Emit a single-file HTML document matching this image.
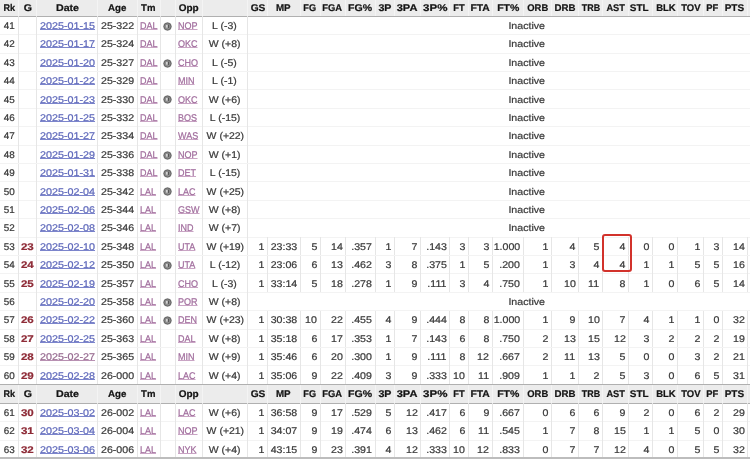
<!DOCTYPE html>
<html><head><meta charset="utf-8"><style>
*{margin:0;padding:0;box-sizing:border-box}
html,body{width:750px;height:460px;overflow:hidden;background:#fff}
body{position:relative;font-family:"Liberation Sans",sans-serif;text-rendering:geometricPrecision;font-size:9.7px;color:#3a3a3a}
#w{position:absolute;left:0;top:0;width:750px;height:460px;will-change:transform}
.b{position:absolute}
.c{position:absolute;white-space:nowrap;overflow:visible}
.c span{display:inline-block;-webkit-text-stroke:0.22px currentColor}
.c[style*="text-align:right"] span{transform-origin:100% 50%}
.c[style*="text-align:left"] span{transform-origin:0 50%}
.c[style*="text-align:center"] span{transform-origin:50% 50%}
.d span{transform:scaleX(1.095)}
.res span{transform:scaleX(1.08)}
.h{font-weight:bold;font-size:9.7px;color:#141414}
.h span{transform:scaleX(1.05)}
.rk{color:#383838}
.rk span{transform:scaleX(1.02)}
.g{font-weight:bold;color:#8e2b37}
.g span{transform:scaleX(1.19)}
.dt span{color:#5f69bb;text-decoration:underline;text-decoration-color:#7c85cc;text-underline-offset:0px;text-decoration-skip-ink:none;transform:scaleX(1.11)}
.dt.vis span{color:#976b90;text-decoration-color:#b890b2}
.tm span{color:#a06c9c;text-decoration:underline;text-decoration-color:#c9a4c4;text-underline-offset:0px;text-decoration-skip-ink:none;transform:scaleX(0.93);position:relative;left:-0.6px}
.at{color:#484848;font-size:9.4px;font-weight:bold}
.at span{position:relative;top:-1px}
.hl{position:absolute;left:601.5px;top:234.3px;width:30.5px;height:37.5px;border:2px solid #d2322b;border-radius:3px}
</style></head><body>
<div id="w"><div class="b" style="left:0px;top:-2px;width:750px;height:18.6px;background:#ececec"></div>
<div class="b" style="left:17.9px;top:-2px;width:1px;height:17.6px;background:#f4f4f4"></div>
<div class="b" style="left:36.2px;top:-2px;width:1px;height:17.6px;background:#f4f4f4"></div>
<div class="b" style="left:97.2px;top:-2px;width:1px;height:17.6px;background:#f4f4f4"></div>
<div class="b" style="left:136.9px;top:-2px;width:1px;height:17.6px;background:#f4f4f4"></div>
<div class="b" style="left:159.9px;top:-2px;width:1px;height:17.6px;background:#f4f4f4"></div>
<div class="b" style="left:174.8px;top:-2px;width:1px;height:17.6px;background:#f4f4f4"></div>
<div class="b" style="left:201.8px;top:-2px;width:1px;height:17.6px;background:#f4f4f4"></div>
<div class="b" style="left:247px;top:-2px;width:1px;height:17.6px;background:#f4f4f4"></div>
<div class="b" style="left:266.8px;top:-2px;width:1px;height:17.6px;background:#f4f4f4"></div>
<div class="b" style="left:300.1px;top:-2px;width:1px;height:17.6px;background:#f4f4f4"></div>
<div class="b" style="left:319.7px;top:-2px;width:1px;height:17.6px;background:#f4f4f4"></div>
<div class="b" style="left:345px;top:-2px;width:1px;height:17.6px;background:#f4f4f4"></div>
<div class="b" style="left:374.8px;top:-2px;width:1px;height:17.6px;background:#f4f4f4"></div>
<div class="b" style="left:394.4px;top:-2px;width:1px;height:17.6px;background:#f4f4f4"></div>
<div class="b" style="left:420px;top:-2px;width:1px;height:17.6px;background:#f4f4f4"></div>
<div class="b" style="left:449.1px;top:-2px;width:1px;height:17.6px;background:#f4f4f4"></div>
<div class="b" style="left:467.8px;top:-2px;width:1px;height:17.6px;background:#f4f4f4"></div>
<div class="b" style="left:491.8px;top:-2px;width:1px;height:17.6px;background:#f4f4f4"></div>
<div class="b" style="left:523px;top:-2px;width:1px;height:17.6px;background:#f4f4f4"></div>
<div class="b" style="left:551.1px;top:-2px;width:1px;height:17.6px;background:#f4f4f4"></div>
<div class="b" style="left:578.2px;top:-2px;width:1px;height:17.6px;background:#f4f4f4"></div>
<div class="b" style="left:602px;top:-2px;width:1px;height:17.6px;background:#f4f4f4"></div>
<div class="b" style="left:628.3px;top:-2px;width:1px;height:17.6px;background:#f4f4f4"></div>
<div class="b" style="left:652.3px;top:-2px;width:1px;height:17.6px;background:#f4f4f4"></div>
<div class="b" style="left:677.3px;top:-2px;width:1px;height:17.6px;background:#f4f4f4"></div>
<div class="b" style="left:702.9px;top:-2px;width:1px;height:17.6px;background:#f4f4f4"></div>
<div class="b" style="left:722.2px;top:-2px;width:1px;height:17.6px;background:#f4f4f4"></div>
<div class="b" style="left:747px;top:-2px;width:1px;height:17.6px;background:#f4f4f4"></div>
<div class="b" style="left:0px;top:15.6px;width:750px;height:1px;background:#b0b0b0"></div>
<div class="c h" style="left:0px;top:-0.4px;width:18.4px;height:17.6px;line-height:17.6px;text-align:center;"><span style="transform:scaleX(0.937);position:relative;left:0.0px">Rk</span></div>
<div class="c h" style="left:18.4px;top:-0.4px;width:18.3px;height:17.6px;line-height:17.6px;text-align:center;"><span style="transform:scaleX(1.095);position:relative;left:0.1px">G</span></div>
<div class="c h" style="left:36.7px;top:-0.4px;width:61px;height:17.6px;line-height:17.6px;text-align:center;"><span style="transform:scaleX(1.1);position:relative;left:0.2px">Date</span></div>
<div class="c h" style="left:97.7px;top:-0.4px;width:39.7px;height:17.6px;line-height:17.6px;text-align:center;"><span style="transform:scaleX(1.006);position:relative;left:-0.3px">Age</span></div>
<div class="c h" style="left:137.4px;top:-0.4px;width:23px;height:17.6px;line-height:17.6px;text-align:center;"><span style="transform:scaleX(0.987);position:relative;left:-0.4px">Tm</span></div>
<div class="c h" style="left:175.3px;top:-0.4px;width:27px;height:17.6px;line-height:17.6px;text-align:center;"><span style="transform:scaleX(1.029);position:relative;left:0.0px">Opp</span></div>
<div class="c h" style="left:247.5px;top:-0.4px;width:19.8px;height:17.6px;line-height:17.6px;text-align:center;"><span style="transform:scaleX(1.05);position:relative;left:0.7px">GS</span></div>
<div class="c h" style="left:267.3px;top:-0.4px;width:33.3px;height:17.6px;line-height:17.6px;text-align:center;"><span style="transform:scaleX(1.008);position:relative;left:-0.6px">MP</span></div>
<div class="c h" style="left:300.6px;top:-0.4px;width:19.6px;height:17.6px;line-height:17.6px;text-align:center;"><span style="transform:scaleX(0.945);position:relative;left:-1.0px">FG</span></div>
<div class="c h" style="left:320.2px;top:-0.4px;width:25.3px;height:17.6px;line-height:17.6px;text-align:center;"><span style="transform:scaleX(0.97);position:relative;left:-0.8px">FGA</span></div>
<div class="c h" style="left:345.5px;top:-0.4px;width:29.8px;height:17.6px;line-height:17.6px;text-align:center;"><span style="transform:scaleX(1.087);position:relative;left:-0.5px">FG%</span></div>
<div class="c h" style="left:375.3px;top:-0.4px;width:19.6px;height:17.6px;line-height:17.6px;text-align:center;"><span style="transform:scaleX(1.103);position:relative;left:0.0px">3P</span></div>
<div class="c h" style="left:394.9px;top:-0.4px;width:25.6px;height:17.6px;line-height:17.6px;text-align:center;"><span style="transform:scaleX(1.143);position:relative;left:-0.9px">3PA</span></div>
<div class="c h" style="left:420.5px;top:-0.4px;width:29.1px;height:17.6px;line-height:17.6px;text-align:center;"><span style="transform:scaleX(1.19);position:relative;left:-0.3px">3P%</span></div>
<div class="c h" style="left:449.6px;top:-0.4px;width:18.7px;height:17.6px;line-height:17.6px;text-align:center;"><span style="transform:scaleX(0.963);position:relative;left:0.2px">FT</span></div>
<div class="c h" style="left:468.3px;top:-0.4px;width:24px;height:17.6px;line-height:17.6px;text-align:center;"><span style="transform:scaleX(1.068);position:relative;left:0.1px">FTA</span></div>
<div class="c h" style="left:492.3px;top:-0.4px;width:31.2px;height:17.6px;line-height:17.6px;text-align:center;"><span style="transform:scaleX(1.085);position:relative;left:0.0px">FT%</span></div>
<div class="c h" style="left:523.5px;top:-0.4px;width:28.1px;height:17.6px;line-height:17.6px;text-align:center;"><span style="transform:scaleX(0.973);position:relative;left:0.1px">ORB</span></div>
<div class="c h" style="left:551.6px;top:-0.4px;width:27.1px;height:17.6px;line-height:17.6px;text-align:center;"><span style="transform:scaleX(1.0);position:relative;left:-0.2px">DRB</span></div>
<div class="c h" style="left:578.7px;top:-0.4px;width:23.8px;height:17.6px;line-height:17.6px;text-align:center;"><span style="transform:scaleX(0.92);position:relative;left:0.7px">TRB</span></div>
<div class="c h" style="left:602.5px;top:-0.4px;width:26.3px;height:17.6px;line-height:17.6px;text-align:center;"><span style="transform:scaleX(0.956);position:relative;left:-0.2px">AST</span></div>
<div class="c h" style="left:628.8px;top:-0.4px;width:24px;height:17.6px;line-height:17.6px;text-align:center;"><span style="transform:scaleX(1.028);position:relative;left:-1.5px">STL</span></div>
<div class="c h" style="left:652.8px;top:-0.4px;width:25px;height:17.6px;line-height:17.6px;text-align:center;"><span style="transform:scaleX(0.982);position:relative;left:0.2px">BLK</span></div>
<div class="c h" style="left:677.8px;top:-0.4px;width:25.6px;height:17.6px;line-height:17.6px;text-align:center;"><span style="transform:scaleX(0.98);position:relative;left:0.0px">TOV</span></div>
<div class="c h" style="left:703.4px;top:-0.4px;width:19.3px;height:17.6px;line-height:17.6px;text-align:center;"><span style="transform:scaleX(0.969);position:relative;left:-0.5px">PF</span></div>
<div class="c h" style="left:722.7px;top:-0.4px;width:24.8px;height:17.6px;line-height:17.6px;text-align:center;"><span style="transform:scaleX(1.033);position:relative;left:-1.1px">PTS</span></div>
<div class="b" style="left:0px;top:34.2px;width:750px;height:1px;background:#f3f3f3"></div>
<div class="b" style="left:17.9px;top:16.3px;width:1px;height:18.4px;background:#e6e6e6"></div>
<div class="b" style="left:36.2px;top:16.3px;width:1px;height:18.4px;background:#e6e6e6"></div>
<div class="b" style="left:97.2px;top:16.3px;width:1px;height:18.4px;background:#e6e6e6"></div>
<div class="b" style="left:136.9px;top:16.3px;width:1px;height:18.4px;background:#e6e6e6"></div>
<div class="b" style="left:159.9px;top:16.3px;width:1px;height:18.4px;background:#e6e6e6"></div>
<div class="b" style="left:174.8px;top:16.3px;width:1px;height:18.4px;background:#e6e6e6"></div>
<div class="b" style="left:201.8px;top:16.3px;width:1px;height:18.4px;background:#e6e6e6"></div>
<div class="b" style="left:247px;top:16.3px;width:1px;height:18.4px;background:#e6e6e6"></div>
<div class="c rk" style="left:0px;top:17.9px;width:18.4px;height:18.4px;line-height:18.4px;text-align:right;padding-right:3.2px;"><span>41</span></div>
<div class="c dt" style="left:36.7px;top:17.9px;width:61px;height:18.4px;line-height:18.4px;text-align:left;padding-left:3.2px;"><span>2025-01-15</span></div>
<div class="c d" style="left:97.7px;top:17.9px;width:39.7px;height:18.4px;line-height:18.4px;text-align:left;padding-left:3.2px;"><span>25-322</span></div>
<div class="c tm" style="left:137.4px;top:17.9px;width:23px;height:18.4px;line-height:18.4px;text-align:left;padding-left:3.2px;"><span>DAL</span></div>
<svg class="b" style="left:163.2px;top:21.7px" width="9" height="9" viewBox="0 0 9 9"><circle cx="4.5" cy="4.5" r="4.1" fill="#8e8e8e"/><circle cx="4.5" cy="4.5" r="3.5" fill="none" stroke="#686868" stroke-width="1"/><rect x="3.3" y="3.0" width="1.4" height="2.6" fill="#f0f0f0"/><rect x="4.8" y="2.7" width="1.3" height="3.2" fill="#555"/></svg>
<div class="c tm" style="left:175.3px;top:17.9px;width:27px;height:18.4px;line-height:18.4px;text-align:left;padding-left:3.2px;"><span>NOP</span></div>
<div class="c res" style="left:202.3px;top:17.9px;width:45.2px;height:18.4px;line-height:18.4px;text-align:center;"><span>L (-3)</span></div>
<div class="c d" style="left:247.5px;top:17.9px;width:558.1px;height:18.4px;line-height:18.4px;text-align:center;"><span>Inactive</span></div>
<div class="b" style="left:0px;top:52.6px;width:750px;height:1px;background:#f3f3f3"></div>
<div class="b" style="left:17.9px;top:34.7px;width:1px;height:18.4px;background:#e6e6e6"></div>
<div class="b" style="left:36.2px;top:34.7px;width:1px;height:18.4px;background:#e6e6e6"></div>
<div class="b" style="left:97.2px;top:34.7px;width:1px;height:18.4px;background:#e6e6e6"></div>
<div class="b" style="left:136.9px;top:34.7px;width:1px;height:18.4px;background:#e6e6e6"></div>
<div class="b" style="left:159.9px;top:34.7px;width:1px;height:18.4px;background:#e6e6e6"></div>
<div class="b" style="left:174.8px;top:34.7px;width:1px;height:18.4px;background:#e6e6e6"></div>
<div class="b" style="left:201.8px;top:34.7px;width:1px;height:18.4px;background:#e6e6e6"></div>
<div class="b" style="left:247px;top:34.7px;width:1px;height:18.4px;background:#e6e6e6"></div>
<div class="c rk" style="left:0px;top:36.3px;width:18.4px;height:18.4px;line-height:18.4px;text-align:right;padding-right:3.2px;"><span>42</span></div>
<div class="c dt" style="left:36.7px;top:36.3px;width:61px;height:18.4px;line-height:18.4px;text-align:left;padding-left:3.2px;"><span>2025-01-17</span></div>
<div class="c d" style="left:97.7px;top:36.3px;width:39.7px;height:18.4px;line-height:18.4px;text-align:left;padding-left:3.2px;"><span>25-324</span></div>
<div class="c tm" style="left:137.4px;top:36.3px;width:23px;height:18.4px;line-height:18.4px;text-align:left;padding-left:3.2px;"><span>DAL</span></div>
<div class="c tm" style="left:175.3px;top:36.3px;width:27px;height:18.4px;line-height:18.4px;text-align:left;padding-left:3.2px;"><span>OKC</span></div>
<div class="c res" style="left:202.3px;top:36.3px;width:45.2px;height:18.4px;line-height:18.4px;text-align:center;"><span>W (+8)</span></div>
<div class="c d" style="left:247.5px;top:36.3px;width:558.1px;height:18.4px;line-height:18.4px;text-align:center;"><span>Inactive</span></div>
<div class="b" style="left:0px;top:71px;width:750px;height:1px;background:#f3f3f3"></div>
<div class="b" style="left:17.9px;top:53.1px;width:1px;height:18.4px;background:#e6e6e6"></div>
<div class="b" style="left:36.2px;top:53.1px;width:1px;height:18.4px;background:#e6e6e6"></div>
<div class="b" style="left:97.2px;top:53.1px;width:1px;height:18.4px;background:#e6e6e6"></div>
<div class="b" style="left:136.9px;top:53.1px;width:1px;height:18.4px;background:#e6e6e6"></div>
<div class="b" style="left:159.9px;top:53.1px;width:1px;height:18.4px;background:#e6e6e6"></div>
<div class="b" style="left:174.8px;top:53.1px;width:1px;height:18.4px;background:#e6e6e6"></div>
<div class="b" style="left:201.8px;top:53.1px;width:1px;height:18.4px;background:#e6e6e6"></div>
<div class="b" style="left:247px;top:53.1px;width:1px;height:18.4px;background:#e6e6e6"></div>
<div class="c rk" style="left:0px;top:54.7px;width:18.4px;height:18.4px;line-height:18.4px;text-align:right;padding-right:3.2px;"><span>43</span></div>
<div class="c dt" style="left:36.7px;top:54.7px;width:61px;height:18.4px;line-height:18.4px;text-align:left;padding-left:3.2px;"><span>2025-01-20</span></div>
<div class="c d" style="left:97.7px;top:54.7px;width:39.7px;height:18.4px;line-height:18.4px;text-align:left;padding-left:3.2px;"><span>25-327</span></div>
<div class="c tm" style="left:137.4px;top:54.7px;width:23px;height:18.4px;line-height:18.4px;text-align:left;padding-left:3.2px;"><span>DAL</span></div>
<svg class="b" style="left:163.2px;top:58.5px" width="9" height="9" viewBox="0 0 9 9"><circle cx="4.5" cy="4.5" r="4.1" fill="#8e8e8e"/><circle cx="4.5" cy="4.5" r="3.5" fill="none" stroke="#686868" stroke-width="1"/><rect x="3.3" y="3.0" width="1.4" height="2.6" fill="#f0f0f0"/><rect x="4.8" y="2.7" width="1.3" height="3.2" fill="#555"/></svg>
<div class="c tm" style="left:175.3px;top:54.7px;width:27px;height:18.4px;line-height:18.4px;text-align:left;padding-left:3.2px;"><span>CHO</span></div>
<div class="c res" style="left:202.3px;top:54.7px;width:45.2px;height:18.4px;line-height:18.4px;text-align:center;"><span>L (-5)</span></div>
<div class="c d" style="left:247.5px;top:54.7px;width:558.1px;height:18.4px;line-height:18.4px;text-align:center;"><span>Inactive</span></div>
<div class="b" style="left:0px;top:89.4px;width:750px;height:1px;background:#f3f3f3"></div>
<div class="b" style="left:17.9px;top:71.5px;width:1px;height:18.4px;background:#e6e6e6"></div>
<div class="b" style="left:36.2px;top:71.5px;width:1px;height:18.4px;background:#e6e6e6"></div>
<div class="b" style="left:97.2px;top:71.5px;width:1px;height:18.4px;background:#e6e6e6"></div>
<div class="b" style="left:136.9px;top:71.5px;width:1px;height:18.4px;background:#e6e6e6"></div>
<div class="b" style="left:159.9px;top:71.5px;width:1px;height:18.4px;background:#e6e6e6"></div>
<div class="b" style="left:174.8px;top:71.5px;width:1px;height:18.4px;background:#e6e6e6"></div>
<div class="b" style="left:201.8px;top:71.5px;width:1px;height:18.4px;background:#e6e6e6"></div>
<div class="b" style="left:247px;top:71.5px;width:1px;height:18.4px;background:#e6e6e6"></div>
<div class="c rk" style="left:0px;top:73.1px;width:18.4px;height:18.4px;line-height:18.4px;text-align:right;padding-right:3.2px;"><span>44</span></div>
<div class="c dt" style="left:36.7px;top:73.1px;width:61px;height:18.4px;line-height:18.4px;text-align:left;padding-left:3.2px;"><span>2025-01-22</span></div>
<div class="c d" style="left:97.7px;top:73.1px;width:39.7px;height:18.4px;line-height:18.4px;text-align:left;padding-left:3.2px;"><span>25-329</span></div>
<div class="c tm" style="left:137.4px;top:73.1px;width:23px;height:18.4px;line-height:18.4px;text-align:left;padding-left:3.2px;"><span>DAL</span></div>
<div class="c tm" style="left:175.3px;top:73.1px;width:27px;height:18.4px;line-height:18.4px;text-align:left;padding-left:3.2px;"><span>MIN</span></div>
<div class="c res" style="left:202.3px;top:73.1px;width:45.2px;height:18.4px;line-height:18.4px;text-align:center;"><span>L (-1)</span></div>
<div class="c d" style="left:247.5px;top:73.1px;width:558.1px;height:18.4px;line-height:18.4px;text-align:center;"><span>Inactive</span></div>
<div class="b" style="left:0px;top:107.8px;width:750px;height:1px;background:#f3f3f3"></div>
<div class="b" style="left:17.9px;top:89.9px;width:1px;height:18.4px;background:#e6e6e6"></div>
<div class="b" style="left:36.2px;top:89.9px;width:1px;height:18.4px;background:#e6e6e6"></div>
<div class="b" style="left:97.2px;top:89.9px;width:1px;height:18.4px;background:#e6e6e6"></div>
<div class="b" style="left:136.9px;top:89.9px;width:1px;height:18.4px;background:#e6e6e6"></div>
<div class="b" style="left:159.9px;top:89.9px;width:1px;height:18.4px;background:#e6e6e6"></div>
<div class="b" style="left:174.8px;top:89.9px;width:1px;height:18.4px;background:#e6e6e6"></div>
<div class="b" style="left:201.8px;top:89.9px;width:1px;height:18.4px;background:#e6e6e6"></div>
<div class="b" style="left:247px;top:89.9px;width:1px;height:18.4px;background:#e6e6e6"></div>
<div class="c rk" style="left:0px;top:91.5px;width:18.4px;height:18.4px;line-height:18.4px;text-align:right;padding-right:3.2px;"><span>45</span></div>
<div class="c dt" style="left:36.7px;top:91.5px;width:61px;height:18.4px;line-height:18.4px;text-align:left;padding-left:3.2px;"><span>2025-01-23</span></div>
<div class="c d" style="left:97.7px;top:91.5px;width:39.7px;height:18.4px;line-height:18.4px;text-align:left;padding-left:3.2px;"><span>25-330</span></div>
<div class="c tm" style="left:137.4px;top:91.5px;width:23px;height:18.4px;line-height:18.4px;text-align:left;padding-left:3.2px;"><span>DAL</span></div>
<svg class="b" style="left:163.2px;top:95.3px" width="9" height="9" viewBox="0 0 9 9"><circle cx="4.5" cy="4.5" r="4.1" fill="#8e8e8e"/><circle cx="4.5" cy="4.5" r="3.5" fill="none" stroke="#686868" stroke-width="1"/><rect x="3.3" y="3.0" width="1.4" height="2.6" fill="#f0f0f0"/><rect x="4.8" y="2.7" width="1.3" height="3.2" fill="#555"/></svg>
<div class="c tm" style="left:175.3px;top:91.5px;width:27px;height:18.4px;line-height:18.4px;text-align:left;padding-left:3.2px;"><span>OKC</span></div>
<div class="c res" style="left:202.3px;top:91.5px;width:45.2px;height:18.4px;line-height:18.4px;text-align:center;"><span>W (+6)</span></div>
<div class="c d" style="left:247.5px;top:91.5px;width:558.1px;height:18.4px;line-height:18.4px;text-align:center;"><span>Inactive</span></div>
<div class="b" style="left:0px;top:126.2px;width:750px;height:1px;background:#f3f3f3"></div>
<div class="b" style="left:17.9px;top:108.3px;width:1px;height:18.4px;background:#e6e6e6"></div>
<div class="b" style="left:36.2px;top:108.3px;width:1px;height:18.4px;background:#e6e6e6"></div>
<div class="b" style="left:97.2px;top:108.3px;width:1px;height:18.4px;background:#e6e6e6"></div>
<div class="b" style="left:136.9px;top:108.3px;width:1px;height:18.4px;background:#e6e6e6"></div>
<div class="b" style="left:159.9px;top:108.3px;width:1px;height:18.4px;background:#e6e6e6"></div>
<div class="b" style="left:174.8px;top:108.3px;width:1px;height:18.4px;background:#e6e6e6"></div>
<div class="b" style="left:201.8px;top:108.3px;width:1px;height:18.4px;background:#e6e6e6"></div>
<div class="b" style="left:247px;top:108.3px;width:1px;height:18.4px;background:#e6e6e6"></div>
<div class="c rk" style="left:0px;top:109.9px;width:18.4px;height:18.4px;line-height:18.4px;text-align:right;padding-right:3.2px;"><span>46</span></div>
<div class="c dt" style="left:36.7px;top:109.9px;width:61px;height:18.4px;line-height:18.4px;text-align:left;padding-left:3.2px;"><span>2025-01-25</span></div>
<div class="c d" style="left:97.7px;top:109.9px;width:39.7px;height:18.4px;line-height:18.4px;text-align:left;padding-left:3.2px;"><span>25-332</span></div>
<div class="c tm" style="left:137.4px;top:109.9px;width:23px;height:18.4px;line-height:18.4px;text-align:left;padding-left:3.2px;"><span>DAL</span></div>
<div class="c tm" style="left:175.3px;top:109.9px;width:27px;height:18.4px;line-height:18.4px;text-align:left;padding-left:3.2px;"><span>BOS</span></div>
<div class="c res" style="left:202.3px;top:109.9px;width:45.2px;height:18.4px;line-height:18.4px;text-align:center;"><span>L (-15)</span></div>
<div class="c d" style="left:247.5px;top:109.9px;width:558.1px;height:18.4px;line-height:18.4px;text-align:center;"><span>Inactive</span></div>
<div class="b" style="left:0px;top:144.6px;width:750px;height:1px;background:#f3f3f3"></div>
<div class="b" style="left:17.9px;top:126.7px;width:1px;height:18.4px;background:#e6e6e6"></div>
<div class="b" style="left:36.2px;top:126.7px;width:1px;height:18.4px;background:#e6e6e6"></div>
<div class="b" style="left:97.2px;top:126.7px;width:1px;height:18.4px;background:#e6e6e6"></div>
<div class="b" style="left:136.9px;top:126.7px;width:1px;height:18.4px;background:#e6e6e6"></div>
<div class="b" style="left:159.9px;top:126.7px;width:1px;height:18.4px;background:#e6e6e6"></div>
<div class="b" style="left:174.8px;top:126.7px;width:1px;height:18.4px;background:#e6e6e6"></div>
<div class="b" style="left:201.8px;top:126.7px;width:1px;height:18.4px;background:#e6e6e6"></div>
<div class="b" style="left:247px;top:126.7px;width:1px;height:18.4px;background:#e6e6e6"></div>
<div class="c rk" style="left:0px;top:128.3px;width:18.4px;height:18.4px;line-height:18.4px;text-align:right;padding-right:3.2px;"><span>47</span></div>
<div class="c dt" style="left:36.7px;top:128.3px;width:61px;height:18.4px;line-height:18.4px;text-align:left;padding-left:3.2px;"><span>2025-01-27</span></div>
<div class="c d" style="left:97.7px;top:128.3px;width:39.7px;height:18.4px;line-height:18.4px;text-align:left;padding-left:3.2px;"><span>25-334</span></div>
<div class="c tm" style="left:137.4px;top:128.3px;width:23px;height:18.4px;line-height:18.4px;text-align:left;padding-left:3.2px;"><span>DAL</span></div>
<div class="c tm" style="left:175.3px;top:128.3px;width:27px;height:18.4px;line-height:18.4px;text-align:left;padding-left:3.2px;"><span>WAS</span></div>
<div class="c res" style="left:202.3px;top:128.3px;width:45.2px;height:18.4px;line-height:18.4px;text-align:center;"><span>W (+22)</span></div>
<div class="c d" style="left:247.5px;top:128.3px;width:558.1px;height:18.4px;line-height:18.4px;text-align:center;"><span>Inactive</span></div>
<div class="b" style="left:0px;top:163px;width:750px;height:1px;background:#f3f3f3"></div>
<div class="b" style="left:17.9px;top:145.1px;width:1px;height:18.4px;background:#e6e6e6"></div>
<div class="b" style="left:36.2px;top:145.1px;width:1px;height:18.4px;background:#e6e6e6"></div>
<div class="b" style="left:97.2px;top:145.1px;width:1px;height:18.4px;background:#e6e6e6"></div>
<div class="b" style="left:136.9px;top:145.1px;width:1px;height:18.4px;background:#e6e6e6"></div>
<div class="b" style="left:159.9px;top:145.1px;width:1px;height:18.4px;background:#e6e6e6"></div>
<div class="b" style="left:174.8px;top:145.1px;width:1px;height:18.4px;background:#e6e6e6"></div>
<div class="b" style="left:201.8px;top:145.1px;width:1px;height:18.4px;background:#e6e6e6"></div>
<div class="b" style="left:247px;top:145.1px;width:1px;height:18.4px;background:#e6e6e6"></div>
<div class="c rk" style="left:0px;top:146.7px;width:18.4px;height:18.4px;line-height:18.4px;text-align:right;padding-right:3.2px;"><span>48</span></div>
<div class="c dt" style="left:36.7px;top:146.7px;width:61px;height:18.4px;line-height:18.4px;text-align:left;padding-left:3.2px;"><span>2025-01-29</span></div>
<div class="c d" style="left:97.7px;top:146.7px;width:39.7px;height:18.4px;line-height:18.4px;text-align:left;padding-left:3.2px;"><span>25-336</span></div>
<div class="c tm" style="left:137.4px;top:146.7px;width:23px;height:18.4px;line-height:18.4px;text-align:left;padding-left:3.2px;"><span>DAL</span></div>
<svg class="b" style="left:163.2px;top:150.5px" width="9" height="9" viewBox="0 0 9 9"><circle cx="4.5" cy="4.5" r="4.1" fill="#8e8e8e"/><circle cx="4.5" cy="4.5" r="3.5" fill="none" stroke="#686868" stroke-width="1"/><rect x="3.3" y="3.0" width="1.4" height="2.6" fill="#f0f0f0"/><rect x="4.8" y="2.7" width="1.3" height="3.2" fill="#555"/></svg>
<div class="c tm" style="left:175.3px;top:146.7px;width:27px;height:18.4px;line-height:18.4px;text-align:left;padding-left:3.2px;"><span>NOP</span></div>
<div class="c res" style="left:202.3px;top:146.7px;width:45.2px;height:18.4px;line-height:18.4px;text-align:center;"><span>W (+1)</span></div>
<div class="c d" style="left:247.5px;top:146.7px;width:558.1px;height:18.4px;line-height:18.4px;text-align:center;"><span>Inactive</span></div>
<div class="b" style="left:0px;top:181.4px;width:750px;height:1px;background:#f3f3f3"></div>
<div class="b" style="left:17.9px;top:163.5px;width:1px;height:18.4px;background:#e6e6e6"></div>
<div class="b" style="left:36.2px;top:163.5px;width:1px;height:18.4px;background:#e6e6e6"></div>
<div class="b" style="left:97.2px;top:163.5px;width:1px;height:18.4px;background:#e6e6e6"></div>
<div class="b" style="left:136.9px;top:163.5px;width:1px;height:18.4px;background:#e6e6e6"></div>
<div class="b" style="left:159.9px;top:163.5px;width:1px;height:18.4px;background:#e6e6e6"></div>
<div class="b" style="left:174.8px;top:163.5px;width:1px;height:18.4px;background:#e6e6e6"></div>
<div class="b" style="left:201.8px;top:163.5px;width:1px;height:18.4px;background:#e6e6e6"></div>
<div class="b" style="left:247px;top:163.5px;width:1px;height:18.4px;background:#e6e6e6"></div>
<div class="c rk" style="left:0px;top:165.1px;width:18.4px;height:18.4px;line-height:18.4px;text-align:right;padding-right:3.2px;"><span>49</span></div>
<div class="c dt" style="left:36.7px;top:165.1px;width:61px;height:18.4px;line-height:18.4px;text-align:left;padding-left:3.2px;"><span>2025-01-31</span></div>
<div class="c d" style="left:97.7px;top:165.1px;width:39.7px;height:18.4px;line-height:18.4px;text-align:left;padding-left:3.2px;"><span>25-338</span></div>
<div class="c tm" style="left:137.4px;top:165.1px;width:23px;height:18.4px;line-height:18.4px;text-align:left;padding-left:3.2px;"><span>DAL</span></div>
<svg class="b" style="left:163.2px;top:168.9px" width="9" height="9" viewBox="0 0 9 9"><circle cx="4.5" cy="4.5" r="4.1" fill="#8e8e8e"/><circle cx="4.5" cy="4.5" r="3.5" fill="none" stroke="#686868" stroke-width="1"/><rect x="3.3" y="3.0" width="1.4" height="2.6" fill="#f0f0f0"/><rect x="4.8" y="2.7" width="1.3" height="3.2" fill="#555"/></svg>
<div class="c tm" style="left:175.3px;top:165.1px;width:27px;height:18.4px;line-height:18.4px;text-align:left;padding-left:3.2px;"><span>DET</span></div>
<div class="c res" style="left:202.3px;top:165.1px;width:45.2px;height:18.4px;line-height:18.4px;text-align:center;"><span>L (-15)</span></div>
<div class="c d" style="left:247.5px;top:165.1px;width:558.1px;height:18.4px;line-height:18.4px;text-align:center;"><span>Inactive</span></div>
<div class="b" style="left:0px;top:199.8px;width:750px;height:1px;background:#f3f3f3"></div>
<div class="b" style="left:17.9px;top:181.9px;width:1px;height:18.4px;background:#e6e6e6"></div>
<div class="b" style="left:36.2px;top:181.9px;width:1px;height:18.4px;background:#e6e6e6"></div>
<div class="b" style="left:97.2px;top:181.9px;width:1px;height:18.4px;background:#e6e6e6"></div>
<div class="b" style="left:136.9px;top:181.9px;width:1px;height:18.4px;background:#e6e6e6"></div>
<div class="b" style="left:159.9px;top:181.9px;width:1px;height:18.4px;background:#e6e6e6"></div>
<div class="b" style="left:174.8px;top:181.9px;width:1px;height:18.4px;background:#e6e6e6"></div>
<div class="b" style="left:201.8px;top:181.9px;width:1px;height:18.4px;background:#e6e6e6"></div>
<div class="b" style="left:247px;top:181.9px;width:1px;height:18.4px;background:#e6e6e6"></div>
<div class="c rk" style="left:0px;top:183.5px;width:18.4px;height:18.4px;line-height:18.4px;text-align:right;padding-right:3.2px;"><span>50</span></div>
<div class="c dt" style="left:36.7px;top:183.5px;width:61px;height:18.4px;line-height:18.4px;text-align:left;padding-left:3.2px;"><span>2025-02-04</span></div>
<div class="c d" style="left:97.7px;top:183.5px;width:39.7px;height:18.4px;line-height:18.4px;text-align:left;padding-left:3.2px;"><span>25-342</span></div>
<div class="c tm" style="left:137.4px;top:183.5px;width:23px;height:18.4px;line-height:18.4px;text-align:left;padding-left:3.2px;"><span>LAL</span></div>
<svg class="b" style="left:163.2px;top:187.3px" width="9" height="9" viewBox="0 0 9 9"><circle cx="4.5" cy="4.5" r="4.1" fill="#8e8e8e"/><circle cx="4.5" cy="4.5" r="3.5" fill="none" stroke="#686868" stroke-width="1"/><rect x="3.3" y="3.0" width="1.4" height="2.6" fill="#f0f0f0"/><rect x="4.8" y="2.7" width="1.3" height="3.2" fill="#555"/></svg>
<div class="c tm" style="left:175.3px;top:183.5px;width:27px;height:18.4px;line-height:18.4px;text-align:left;padding-left:3.2px;"><span>LAC</span></div>
<div class="c res" style="left:202.3px;top:183.5px;width:45.2px;height:18.4px;line-height:18.4px;text-align:center;"><span>W (+25)</span></div>
<div class="c d" style="left:247.5px;top:183.5px;width:558.1px;height:18.4px;line-height:18.4px;text-align:center;"><span>Inactive</span></div>
<div class="b" style="left:0px;top:218.2px;width:750px;height:1px;background:#f3f3f3"></div>
<div class="b" style="left:17.9px;top:200.3px;width:1px;height:18.4px;background:#e6e6e6"></div>
<div class="b" style="left:36.2px;top:200.3px;width:1px;height:18.4px;background:#e6e6e6"></div>
<div class="b" style="left:97.2px;top:200.3px;width:1px;height:18.4px;background:#e6e6e6"></div>
<div class="b" style="left:136.9px;top:200.3px;width:1px;height:18.4px;background:#e6e6e6"></div>
<div class="b" style="left:159.9px;top:200.3px;width:1px;height:18.4px;background:#e6e6e6"></div>
<div class="b" style="left:174.8px;top:200.3px;width:1px;height:18.4px;background:#e6e6e6"></div>
<div class="b" style="left:201.8px;top:200.3px;width:1px;height:18.4px;background:#e6e6e6"></div>
<div class="b" style="left:247px;top:200.3px;width:1px;height:18.4px;background:#e6e6e6"></div>
<div class="c rk" style="left:0px;top:201.9px;width:18.4px;height:18.4px;line-height:18.4px;text-align:right;padding-right:3.2px;"><span>51</span></div>
<div class="c dt" style="left:36.7px;top:201.9px;width:61px;height:18.4px;line-height:18.4px;text-align:left;padding-left:3.2px;"><span>2025-02-06</span></div>
<div class="c d" style="left:97.7px;top:201.9px;width:39.7px;height:18.4px;line-height:18.4px;text-align:left;padding-left:3.2px;"><span>25-344</span></div>
<div class="c tm" style="left:137.4px;top:201.9px;width:23px;height:18.4px;line-height:18.4px;text-align:left;padding-left:3.2px;"><span>LAL</span></div>
<div class="c tm" style="left:175.3px;top:201.9px;width:27px;height:18.4px;line-height:18.4px;text-align:left;padding-left:3.2px;"><span>GSW</span></div>
<div class="c res" style="left:202.3px;top:201.9px;width:45.2px;height:18.4px;line-height:18.4px;text-align:center;"><span>W (+8)</span></div>
<div class="c d" style="left:247.5px;top:201.9px;width:558.1px;height:18.4px;line-height:18.4px;text-align:center;"><span>Inactive</span></div>
<div class="b" style="left:0px;top:236.6px;width:750px;height:1px;background:#f3f3f3"></div>
<div class="b" style="left:17.9px;top:218.7px;width:1px;height:18.4px;background:#e6e6e6"></div>
<div class="b" style="left:36.2px;top:218.7px;width:1px;height:18.4px;background:#e6e6e6"></div>
<div class="b" style="left:97.2px;top:218.7px;width:1px;height:18.4px;background:#e6e6e6"></div>
<div class="b" style="left:136.9px;top:218.7px;width:1px;height:18.4px;background:#e6e6e6"></div>
<div class="b" style="left:159.9px;top:218.7px;width:1px;height:18.4px;background:#e6e6e6"></div>
<div class="b" style="left:174.8px;top:218.7px;width:1px;height:18.4px;background:#e6e6e6"></div>
<div class="b" style="left:201.8px;top:218.7px;width:1px;height:18.4px;background:#e6e6e6"></div>
<div class="b" style="left:247px;top:218.7px;width:1px;height:18.4px;background:#e6e6e6"></div>
<div class="c rk" style="left:0px;top:220.3px;width:18.4px;height:18.4px;line-height:18.4px;text-align:right;padding-right:3.2px;"><span>52</span></div>
<div class="c dt" style="left:36.7px;top:220.3px;width:61px;height:18.4px;line-height:18.4px;text-align:left;padding-left:3.2px;"><span>2025-02-08</span></div>
<div class="c d" style="left:97.7px;top:220.3px;width:39.7px;height:18.4px;line-height:18.4px;text-align:left;padding-left:3.2px;"><span>25-346</span></div>
<div class="c tm" style="left:137.4px;top:220.3px;width:23px;height:18.4px;line-height:18.4px;text-align:left;padding-left:3.2px;"><span>LAL</span></div>
<div class="c tm" style="left:175.3px;top:220.3px;width:27px;height:18.4px;line-height:18.4px;text-align:left;padding-left:3.2px;"><span>IND</span></div>
<div class="c res" style="left:202.3px;top:220.3px;width:45.2px;height:18.4px;line-height:18.4px;text-align:center;"><span>W (+7)</span></div>
<div class="c d" style="left:247.5px;top:220.3px;width:558.1px;height:18.4px;line-height:18.4px;text-align:center;"><span>Inactive</span></div>
<div class="b" style="left:0px;top:255px;width:750px;height:1px;background:#f3f3f3"></div>
<div class="b" style="left:17.9px;top:237.1px;width:1px;height:18.4px;background:#e6e6e6"></div>
<div class="b" style="left:36.2px;top:237.1px;width:1px;height:18.4px;background:#e6e6e6"></div>
<div class="b" style="left:97.2px;top:237.1px;width:1px;height:18.4px;background:#e6e6e6"></div>
<div class="b" style="left:136.9px;top:237.1px;width:1px;height:18.4px;background:#e6e6e6"></div>
<div class="b" style="left:159.9px;top:237.1px;width:1px;height:18.4px;background:#e6e6e6"></div>
<div class="b" style="left:174.8px;top:237.1px;width:1px;height:18.4px;background:#e6e6e6"></div>
<div class="b" style="left:201.8px;top:237.1px;width:1px;height:18.4px;background:#e6e6e6"></div>
<div class="b" style="left:247px;top:237.1px;width:1px;height:18.4px;background:#e6e6e6"></div>
<div class="b" style="left:266.8px;top:237.1px;width:1px;height:18.4px;background:#e6e6e6"></div>
<div class="b" style="left:300.1px;top:237.1px;width:1px;height:18.4px;background:#e6e6e6"></div>
<div class="b" style="left:319.7px;top:237.1px;width:1px;height:18.4px;background:#e6e6e6"></div>
<div class="b" style="left:345px;top:237.1px;width:1px;height:18.4px;background:#e6e6e6"></div>
<div class="b" style="left:374.8px;top:237.1px;width:1px;height:18.4px;background:#e6e6e6"></div>
<div class="b" style="left:394.4px;top:237.1px;width:1px;height:18.4px;background:#e6e6e6"></div>
<div class="b" style="left:420px;top:237.1px;width:1px;height:18.4px;background:#e6e6e6"></div>
<div class="b" style="left:449.1px;top:237.1px;width:1px;height:18.4px;background:#e6e6e6"></div>
<div class="b" style="left:467.8px;top:237.1px;width:1px;height:18.4px;background:#e6e6e6"></div>
<div class="b" style="left:491.8px;top:237.1px;width:1px;height:18.4px;background:#e6e6e6"></div>
<div class="b" style="left:523px;top:237.1px;width:1px;height:18.4px;background:#e6e6e6"></div>
<div class="b" style="left:551.1px;top:237.1px;width:1px;height:18.4px;background:#e6e6e6"></div>
<div class="b" style="left:578.2px;top:237.1px;width:1px;height:18.4px;background:#e6e6e6"></div>
<div class="b" style="left:602px;top:237.1px;width:1px;height:18.4px;background:#e6e6e6"></div>
<div class="b" style="left:628.3px;top:237.1px;width:1px;height:18.4px;background:#e6e6e6"></div>
<div class="b" style="left:652.3px;top:237.1px;width:1px;height:18.4px;background:#e6e6e6"></div>
<div class="b" style="left:677.3px;top:237.1px;width:1px;height:18.4px;background:#e6e6e6"></div>
<div class="b" style="left:702.9px;top:237.1px;width:1px;height:18.4px;background:#e6e6e6"></div>
<div class="b" style="left:722.2px;top:237.1px;width:1px;height:18.4px;background:#e6e6e6"></div>
<div class="b" style="left:747px;top:237.1px;width:1px;height:18.4px;background:#e6e6e6"></div>
<div class="c rk" style="left:0px;top:238.7px;width:18.4px;height:18.4px;line-height:18.4px;text-align:right;padding-right:3.2px;"><span>53</span></div>
<div class="c g" style="left:18.4px;top:238.7px;width:18.3px;height:18.4px;line-height:18.4px;text-align:right;padding-right:3.2px;"><span>23</span></div>
<div class="c dt" style="left:36.7px;top:238.7px;width:61px;height:18.4px;line-height:18.4px;text-align:left;padding-left:3.2px;"><span>2025-02-10</span></div>
<div class="c d" style="left:97.7px;top:238.7px;width:39.7px;height:18.4px;line-height:18.4px;text-align:left;padding-left:3.2px;"><span>25-348</span></div>
<div class="c tm" style="left:137.4px;top:238.7px;width:23px;height:18.4px;line-height:18.4px;text-align:left;padding-left:3.2px;"><span>LAL</span></div>
<div class="c tm" style="left:175.3px;top:238.7px;width:27px;height:18.4px;line-height:18.4px;text-align:left;padding-left:3.2px;"><span>UTA</span></div>
<div class="c res" style="left:202.3px;top:238.7px;width:45.2px;height:18.4px;line-height:18.4px;text-align:center;"><span>W (+19)</span></div>
<div class="c d" style="left:247.5px;top:238.7px;width:19.8px;height:18.4px;line-height:18.4px;text-align:right;padding-right:3.2px;"><span>1</span></div>
<div class="c d" style="left:267.3px;top:238.7px;width:33.3px;height:18.4px;line-height:18.4px;text-align:right;padding-right:3.2px;"><span>23:33</span></div>
<div class="c d" style="left:300.6px;top:238.7px;width:19.6px;height:18.4px;line-height:18.4px;text-align:right;padding-right:3.2px;"><span>5</span></div>
<div class="c d" style="left:320.2px;top:238.7px;width:25.3px;height:18.4px;line-height:18.4px;text-align:right;padding-right:3.2px;"><span>14</span></div>
<div class="c d" style="left:345.5px;top:238.7px;width:29.8px;height:18.4px;line-height:18.4px;text-align:right;padding-right:3.2px;"><span>.357</span></div>
<div class="c d" style="left:375.3px;top:238.7px;width:19.6px;height:18.4px;line-height:18.4px;text-align:right;padding-right:3.2px;"><span>1</span></div>
<div class="c d" style="left:394.9px;top:238.7px;width:25.6px;height:18.4px;line-height:18.4px;text-align:right;padding-right:3.2px;"><span>7</span></div>
<div class="c d" style="left:420.5px;top:238.7px;width:29.1px;height:18.4px;line-height:18.4px;text-align:right;padding-right:3.2px;"><span>.143</span></div>
<div class="c d" style="left:449.6px;top:238.7px;width:18.7px;height:18.4px;line-height:18.4px;text-align:right;padding-right:3.2px;"><span>3</span></div>
<div class="c d" style="left:468.3px;top:238.7px;width:24px;height:18.4px;line-height:18.4px;text-align:right;padding-right:3.2px;"><span>3</span></div>
<div class="c d" style="left:492.3px;top:238.7px;width:31.2px;height:18.4px;line-height:18.4px;text-align:right;padding-right:3.2px;"><span>1.000</span></div>
<div class="c d" style="left:523.5px;top:238.7px;width:28.1px;height:18.4px;line-height:18.4px;text-align:right;padding-right:3.2px;"><span>1</span></div>
<div class="c d" style="left:551.6px;top:238.7px;width:27.1px;height:18.4px;line-height:18.4px;text-align:right;padding-right:3.2px;"><span>4</span></div>
<div class="c d" style="left:578.7px;top:238.7px;width:23.8px;height:18.4px;line-height:18.4px;text-align:right;padding-right:3.2px;"><span>5</span></div>
<div class="c d" style="left:602.5px;top:238.7px;width:26.3px;height:18.4px;line-height:18.4px;text-align:right;padding-right:3.2px;"><span>4</span></div>
<div class="c d" style="left:628.8px;top:238.7px;width:24px;height:18.4px;line-height:18.4px;text-align:right;padding-right:3.2px;"><span>0</span></div>
<div class="c d" style="left:652.8px;top:238.7px;width:25px;height:18.4px;line-height:18.4px;text-align:right;padding-right:3.2px;"><span>0</span></div>
<div class="c d" style="left:677.8px;top:238.7px;width:25.6px;height:18.4px;line-height:18.4px;text-align:right;padding-right:3.2px;"><span>1</span></div>
<div class="c d" style="left:703.4px;top:238.7px;width:19.3px;height:18.4px;line-height:18.4px;text-align:right;padding-right:3.2px;"><span>3</span></div>
<div class="c d" style="left:722.7px;top:238.7px;width:24.8px;height:18.4px;line-height:18.4px;text-align:right;padding-right:3.2px;"><span>14</span></div>
<div class="b" style="left:0px;top:273.4px;width:750px;height:1px;background:#f3f3f3"></div>
<div class="b" style="left:17.9px;top:255.5px;width:1px;height:18.4px;background:#e6e6e6"></div>
<div class="b" style="left:36.2px;top:255.5px;width:1px;height:18.4px;background:#e6e6e6"></div>
<div class="b" style="left:97.2px;top:255.5px;width:1px;height:18.4px;background:#e6e6e6"></div>
<div class="b" style="left:136.9px;top:255.5px;width:1px;height:18.4px;background:#e6e6e6"></div>
<div class="b" style="left:159.9px;top:255.5px;width:1px;height:18.4px;background:#e6e6e6"></div>
<div class="b" style="left:174.8px;top:255.5px;width:1px;height:18.4px;background:#e6e6e6"></div>
<div class="b" style="left:201.8px;top:255.5px;width:1px;height:18.4px;background:#e6e6e6"></div>
<div class="b" style="left:247px;top:255.5px;width:1px;height:18.4px;background:#e6e6e6"></div>
<div class="b" style="left:266.8px;top:255.5px;width:1px;height:18.4px;background:#e6e6e6"></div>
<div class="b" style="left:300.1px;top:255.5px;width:1px;height:18.4px;background:#e6e6e6"></div>
<div class="b" style="left:319.7px;top:255.5px;width:1px;height:18.4px;background:#e6e6e6"></div>
<div class="b" style="left:345px;top:255.5px;width:1px;height:18.4px;background:#e6e6e6"></div>
<div class="b" style="left:374.8px;top:255.5px;width:1px;height:18.4px;background:#e6e6e6"></div>
<div class="b" style="left:394.4px;top:255.5px;width:1px;height:18.4px;background:#e6e6e6"></div>
<div class="b" style="left:420px;top:255.5px;width:1px;height:18.4px;background:#e6e6e6"></div>
<div class="b" style="left:449.1px;top:255.5px;width:1px;height:18.4px;background:#e6e6e6"></div>
<div class="b" style="left:467.8px;top:255.5px;width:1px;height:18.4px;background:#e6e6e6"></div>
<div class="b" style="left:491.8px;top:255.5px;width:1px;height:18.4px;background:#e6e6e6"></div>
<div class="b" style="left:523px;top:255.5px;width:1px;height:18.4px;background:#e6e6e6"></div>
<div class="b" style="left:551.1px;top:255.5px;width:1px;height:18.4px;background:#e6e6e6"></div>
<div class="b" style="left:578.2px;top:255.5px;width:1px;height:18.4px;background:#e6e6e6"></div>
<div class="b" style="left:602px;top:255.5px;width:1px;height:18.4px;background:#e6e6e6"></div>
<div class="b" style="left:628.3px;top:255.5px;width:1px;height:18.4px;background:#e6e6e6"></div>
<div class="b" style="left:652.3px;top:255.5px;width:1px;height:18.4px;background:#e6e6e6"></div>
<div class="b" style="left:677.3px;top:255.5px;width:1px;height:18.4px;background:#e6e6e6"></div>
<div class="b" style="left:702.9px;top:255.5px;width:1px;height:18.4px;background:#e6e6e6"></div>
<div class="b" style="left:722.2px;top:255.5px;width:1px;height:18.4px;background:#e6e6e6"></div>
<div class="b" style="left:747px;top:255.5px;width:1px;height:18.4px;background:#e6e6e6"></div>
<div class="c rk" style="left:0px;top:257.1px;width:18.4px;height:18.4px;line-height:18.4px;text-align:right;padding-right:3.2px;"><span>54</span></div>
<div class="c g" style="left:18.4px;top:257.1px;width:18.3px;height:18.4px;line-height:18.4px;text-align:right;padding-right:3.2px;"><span>24</span></div>
<div class="c dt" style="left:36.7px;top:257.1px;width:61px;height:18.4px;line-height:18.4px;text-align:left;padding-left:3.2px;"><span>2025-02-12</span></div>
<div class="c d" style="left:97.7px;top:257.1px;width:39.7px;height:18.4px;line-height:18.4px;text-align:left;padding-left:3.2px;"><span>25-350</span></div>
<div class="c tm" style="left:137.4px;top:257.1px;width:23px;height:18.4px;line-height:18.4px;text-align:left;padding-left:3.2px;"><span>LAL</span></div>
<svg class="b" style="left:163.2px;top:260.9px" width="9" height="9" viewBox="0 0 9 9"><circle cx="4.5" cy="4.5" r="4.1" fill="#8e8e8e"/><circle cx="4.5" cy="4.5" r="3.5" fill="none" stroke="#686868" stroke-width="1"/><rect x="3.3" y="3.0" width="1.4" height="2.6" fill="#f0f0f0"/><rect x="4.8" y="2.7" width="1.3" height="3.2" fill="#555"/></svg>
<div class="c tm" style="left:175.3px;top:257.1px;width:27px;height:18.4px;line-height:18.4px;text-align:left;padding-left:3.2px;"><span>UTA</span></div>
<div class="c res" style="left:202.3px;top:257.1px;width:45.2px;height:18.4px;line-height:18.4px;text-align:center;"><span>L (-12)</span></div>
<div class="c d" style="left:247.5px;top:257.1px;width:19.8px;height:18.4px;line-height:18.4px;text-align:right;padding-right:3.2px;"><span>1</span></div>
<div class="c d" style="left:267.3px;top:257.1px;width:33.3px;height:18.4px;line-height:18.4px;text-align:right;padding-right:3.2px;"><span>23:06</span></div>
<div class="c d" style="left:300.6px;top:257.1px;width:19.6px;height:18.4px;line-height:18.4px;text-align:right;padding-right:3.2px;"><span>6</span></div>
<div class="c d" style="left:320.2px;top:257.1px;width:25.3px;height:18.4px;line-height:18.4px;text-align:right;padding-right:3.2px;"><span>13</span></div>
<div class="c d" style="left:345.5px;top:257.1px;width:29.8px;height:18.4px;line-height:18.4px;text-align:right;padding-right:3.2px;"><span>.462</span></div>
<div class="c d" style="left:375.3px;top:257.1px;width:19.6px;height:18.4px;line-height:18.4px;text-align:right;padding-right:3.2px;"><span>3</span></div>
<div class="c d" style="left:394.9px;top:257.1px;width:25.6px;height:18.4px;line-height:18.4px;text-align:right;padding-right:3.2px;"><span>8</span></div>
<div class="c d" style="left:420.5px;top:257.1px;width:29.1px;height:18.4px;line-height:18.4px;text-align:right;padding-right:3.2px;"><span>.375</span></div>
<div class="c d" style="left:449.6px;top:257.1px;width:18.7px;height:18.4px;line-height:18.4px;text-align:right;padding-right:3.2px;"><span>1</span></div>
<div class="c d" style="left:468.3px;top:257.1px;width:24px;height:18.4px;line-height:18.4px;text-align:right;padding-right:3.2px;"><span>5</span></div>
<div class="c d" style="left:492.3px;top:257.1px;width:31.2px;height:18.4px;line-height:18.4px;text-align:right;padding-right:3.2px;"><span>.200</span></div>
<div class="c d" style="left:523.5px;top:257.1px;width:28.1px;height:18.4px;line-height:18.4px;text-align:right;padding-right:3.2px;"><span>1</span></div>
<div class="c d" style="left:551.6px;top:257.1px;width:27.1px;height:18.4px;line-height:18.4px;text-align:right;padding-right:3.2px;"><span>3</span></div>
<div class="c d" style="left:578.7px;top:257.1px;width:23.8px;height:18.4px;line-height:18.4px;text-align:right;padding-right:3.2px;"><span>4</span></div>
<div class="c d" style="left:602.5px;top:257.1px;width:26.3px;height:18.4px;line-height:18.4px;text-align:right;padding-right:3.2px;"><span>4</span></div>
<div class="c d" style="left:628.8px;top:257.1px;width:24px;height:18.4px;line-height:18.4px;text-align:right;padding-right:3.2px;"><span>1</span></div>
<div class="c d" style="left:652.8px;top:257.1px;width:25px;height:18.4px;line-height:18.4px;text-align:right;padding-right:3.2px;"><span>1</span></div>
<div class="c d" style="left:677.8px;top:257.1px;width:25.6px;height:18.4px;line-height:18.4px;text-align:right;padding-right:3.2px;"><span>5</span></div>
<div class="c d" style="left:703.4px;top:257.1px;width:19.3px;height:18.4px;line-height:18.4px;text-align:right;padding-right:3.2px;"><span>5</span></div>
<div class="c d" style="left:722.7px;top:257.1px;width:24.8px;height:18.4px;line-height:18.4px;text-align:right;padding-right:3.2px;"><span>16</span></div>
<div class="b" style="left:0px;top:291.8px;width:750px;height:1px;background:#f3f3f3"></div>
<div class="b" style="left:17.9px;top:273.9px;width:1px;height:18.4px;background:#e6e6e6"></div>
<div class="b" style="left:36.2px;top:273.9px;width:1px;height:18.4px;background:#e6e6e6"></div>
<div class="b" style="left:97.2px;top:273.9px;width:1px;height:18.4px;background:#e6e6e6"></div>
<div class="b" style="left:136.9px;top:273.9px;width:1px;height:18.4px;background:#e6e6e6"></div>
<div class="b" style="left:159.9px;top:273.9px;width:1px;height:18.4px;background:#e6e6e6"></div>
<div class="b" style="left:174.8px;top:273.9px;width:1px;height:18.4px;background:#e6e6e6"></div>
<div class="b" style="left:201.8px;top:273.9px;width:1px;height:18.4px;background:#e6e6e6"></div>
<div class="b" style="left:247px;top:273.9px;width:1px;height:18.4px;background:#e6e6e6"></div>
<div class="b" style="left:266.8px;top:273.9px;width:1px;height:18.4px;background:#e6e6e6"></div>
<div class="b" style="left:300.1px;top:273.9px;width:1px;height:18.4px;background:#e6e6e6"></div>
<div class="b" style="left:319.7px;top:273.9px;width:1px;height:18.4px;background:#e6e6e6"></div>
<div class="b" style="left:345px;top:273.9px;width:1px;height:18.4px;background:#e6e6e6"></div>
<div class="b" style="left:374.8px;top:273.9px;width:1px;height:18.4px;background:#e6e6e6"></div>
<div class="b" style="left:394.4px;top:273.9px;width:1px;height:18.4px;background:#e6e6e6"></div>
<div class="b" style="left:420px;top:273.9px;width:1px;height:18.4px;background:#e6e6e6"></div>
<div class="b" style="left:449.1px;top:273.9px;width:1px;height:18.4px;background:#e6e6e6"></div>
<div class="b" style="left:467.8px;top:273.9px;width:1px;height:18.4px;background:#e6e6e6"></div>
<div class="b" style="left:491.8px;top:273.9px;width:1px;height:18.4px;background:#e6e6e6"></div>
<div class="b" style="left:523px;top:273.9px;width:1px;height:18.4px;background:#e6e6e6"></div>
<div class="b" style="left:551.1px;top:273.9px;width:1px;height:18.4px;background:#e6e6e6"></div>
<div class="b" style="left:578.2px;top:273.9px;width:1px;height:18.4px;background:#e6e6e6"></div>
<div class="b" style="left:602px;top:273.9px;width:1px;height:18.4px;background:#e6e6e6"></div>
<div class="b" style="left:628.3px;top:273.9px;width:1px;height:18.4px;background:#e6e6e6"></div>
<div class="b" style="left:652.3px;top:273.9px;width:1px;height:18.4px;background:#e6e6e6"></div>
<div class="b" style="left:677.3px;top:273.9px;width:1px;height:18.4px;background:#e6e6e6"></div>
<div class="b" style="left:702.9px;top:273.9px;width:1px;height:18.4px;background:#e6e6e6"></div>
<div class="b" style="left:722.2px;top:273.9px;width:1px;height:18.4px;background:#e6e6e6"></div>
<div class="b" style="left:747px;top:273.9px;width:1px;height:18.4px;background:#e6e6e6"></div>
<div class="c rk" style="left:0px;top:275.5px;width:18.4px;height:18.4px;line-height:18.4px;text-align:right;padding-right:3.2px;"><span>55</span></div>
<div class="c g" style="left:18.4px;top:275.5px;width:18.3px;height:18.4px;line-height:18.4px;text-align:right;padding-right:3.2px;"><span>25</span></div>
<div class="c dt" style="left:36.7px;top:275.5px;width:61px;height:18.4px;line-height:18.4px;text-align:left;padding-left:3.2px;"><span>2025-02-19</span></div>
<div class="c d" style="left:97.7px;top:275.5px;width:39.7px;height:18.4px;line-height:18.4px;text-align:left;padding-left:3.2px;"><span>25-357</span></div>
<div class="c tm" style="left:137.4px;top:275.5px;width:23px;height:18.4px;line-height:18.4px;text-align:left;padding-left:3.2px;"><span>LAL</span></div>
<div class="c tm" style="left:175.3px;top:275.5px;width:27px;height:18.4px;line-height:18.4px;text-align:left;padding-left:3.2px;"><span>CHO</span></div>
<div class="c res" style="left:202.3px;top:275.5px;width:45.2px;height:18.4px;line-height:18.4px;text-align:center;"><span>L (-3)</span></div>
<div class="c d" style="left:247.5px;top:275.5px;width:19.8px;height:18.4px;line-height:18.4px;text-align:right;padding-right:3.2px;"><span>1</span></div>
<div class="c d" style="left:267.3px;top:275.5px;width:33.3px;height:18.4px;line-height:18.4px;text-align:right;padding-right:3.2px;"><span>33:14</span></div>
<div class="c d" style="left:300.6px;top:275.5px;width:19.6px;height:18.4px;line-height:18.4px;text-align:right;padding-right:3.2px;"><span>5</span></div>
<div class="c d" style="left:320.2px;top:275.5px;width:25.3px;height:18.4px;line-height:18.4px;text-align:right;padding-right:3.2px;"><span>18</span></div>
<div class="c d" style="left:345.5px;top:275.5px;width:29.8px;height:18.4px;line-height:18.4px;text-align:right;padding-right:3.2px;"><span>.278</span></div>
<div class="c d" style="left:375.3px;top:275.5px;width:19.6px;height:18.4px;line-height:18.4px;text-align:right;padding-right:3.2px;"><span>1</span></div>
<div class="c d" style="left:394.9px;top:275.5px;width:25.6px;height:18.4px;line-height:18.4px;text-align:right;padding-right:3.2px;"><span>9</span></div>
<div class="c d" style="left:420.5px;top:275.5px;width:29.1px;height:18.4px;line-height:18.4px;text-align:right;padding-right:3.2px;"><span>.111</span></div>
<div class="c d" style="left:449.6px;top:275.5px;width:18.7px;height:18.4px;line-height:18.4px;text-align:right;padding-right:3.2px;"><span>3</span></div>
<div class="c d" style="left:468.3px;top:275.5px;width:24px;height:18.4px;line-height:18.4px;text-align:right;padding-right:3.2px;"><span>4</span></div>
<div class="c d" style="left:492.3px;top:275.5px;width:31.2px;height:18.4px;line-height:18.4px;text-align:right;padding-right:3.2px;"><span>.750</span></div>
<div class="c d" style="left:523.5px;top:275.5px;width:28.1px;height:18.4px;line-height:18.4px;text-align:right;padding-right:3.2px;"><span>1</span></div>
<div class="c d" style="left:551.6px;top:275.5px;width:27.1px;height:18.4px;line-height:18.4px;text-align:right;padding-right:3.2px;"><span>10</span></div>
<div class="c d" style="left:578.7px;top:275.5px;width:23.8px;height:18.4px;line-height:18.4px;text-align:right;padding-right:3.2px;"><span>11</span></div>
<div class="c d" style="left:602.5px;top:275.5px;width:26.3px;height:18.4px;line-height:18.4px;text-align:right;padding-right:3.2px;"><span>8</span></div>
<div class="c d" style="left:628.8px;top:275.5px;width:24px;height:18.4px;line-height:18.4px;text-align:right;padding-right:3.2px;"><span>1</span></div>
<div class="c d" style="left:652.8px;top:275.5px;width:25px;height:18.4px;line-height:18.4px;text-align:right;padding-right:3.2px;"><span>0</span></div>
<div class="c d" style="left:677.8px;top:275.5px;width:25.6px;height:18.4px;line-height:18.4px;text-align:right;padding-right:3.2px;"><span>6</span></div>
<div class="c d" style="left:703.4px;top:275.5px;width:19.3px;height:18.4px;line-height:18.4px;text-align:right;padding-right:3.2px;"><span>5</span></div>
<div class="c d" style="left:722.7px;top:275.5px;width:24.8px;height:18.4px;line-height:18.4px;text-align:right;padding-right:3.2px;"><span>14</span></div>
<div class="b" style="left:0px;top:310.2px;width:750px;height:1px;background:#f3f3f3"></div>
<div class="b" style="left:17.9px;top:292.3px;width:1px;height:18.4px;background:#e6e6e6"></div>
<div class="b" style="left:36.2px;top:292.3px;width:1px;height:18.4px;background:#e6e6e6"></div>
<div class="b" style="left:97.2px;top:292.3px;width:1px;height:18.4px;background:#e6e6e6"></div>
<div class="b" style="left:136.9px;top:292.3px;width:1px;height:18.4px;background:#e6e6e6"></div>
<div class="b" style="left:159.9px;top:292.3px;width:1px;height:18.4px;background:#e6e6e6"></div>
<div class="b" style="left:174.8px;top:292.3px;width:1px;height:18.4px;background:#e6e6e6"></div>
<div class="b" style="left:201.8px;top:292.3px;width:1px;height:18.4px;background:#e6e6e6"></div>
<div class="b" style="left:247px;top:292.3px;width:1px;height:18.4px;background:#e6e6e6"></div>
<div class="c rk" style="left:0px;top:293.9px;width:18.4px;height:18.4px;line-height:18.4px;text-align:right;padding-right:3.2px;"><span>56</span></div>
<div class="c dt" style="left:36.7px;top:293.9px;width:61px;height:18.4px;line-height:18.4px;text-align:left;padding-left:3.2px;"><span>2025-02-20</span></div>
<div class="c d" style="left:97.7px;top:293.9px;width:39.7px;height:18.4px;line-height:18.4px;text-align:left;padding-left:3.2px;"><span>25-358</span></div>
<div class="c tm" style="left:137.4px;top:293.9px;width:23px;height:18.4px;line-height:18.4px;text-align:left;padding-left:3.2px;"><span>LAL</span></div>
<svg class="b" style="left:163.2px;top:297.7px" width="9" height="9" viewBox="0 0 9 9"><circle cx="4.5" cy="4.5" r="4.1" fill="#8e8e8e"/><circle cx="4.5" cy="4.5" r="3.5" fill="none" stroke="#686868" stroke-width="1"/><rect x="3.3" y="3.0" width="1.4" height="2.6" fill="#f0f0f0"/><rect x="4.8" y="2.7" width="1.3" height="3.2" fill="#555"/></svg>
<div class="c tm" style="left:175.3px;top:293.9px;width:27px;height:18.4px;line-height:18.4px;text-align:left;padding-left:3.2px;"><span>POR</span></div>
<div class="c res" style="left:202.3px;top:293.9px;width:45.2px;height:18.4px;line-height:18.4px;text-align:center;"><span>W (+8)</span></div>
<div class="c d" style="left:247.5px;top:293.9px;width:558.1px;height:18.4px;line-height:18.4px;text-align:center;"><span>Inactive</span></div>
<div class="b" style="left:0px;top:328.6px;width:750px;height:1px;background:#f3f3f3"></div>
<div class="b" style="left:17.9px;top:310.7px;width:1px;height:18.4px;background:#e6e6e6"></div>
<div class="b" style="left:36.2px;top:310.7px;width:1px;height:18.4px;background:#e6e6e6"></div>
<div class="b" style="left:97.2px;top:310.7px;width:1px;height:18.4px;background:#e6e6e6"></div>
<div class="b" style="left:136.9px;top:310.7px;width:1px;height:18.4px;background:#e6e6e6"></div>
<div class="b" style="left:159.9px;top:310.7px;width:1px;height:18.4px;background:#e6e6e6"></div>
<div class="b" style="left:174.8px;top:310.7px;width:1px;height:18.4px;background:#e6e6e6"></div>
<div class="b" style="left:201.8px;top:310.7px;width:1px;height:18.4px;background:#e6e6e6"></div>
<div class="b" style="left:247px;top:310.7px;width:1px;height:18.4px;background:#e6e6e6"></div>
<div class="b" style="left:266.8px;top:310.7px;width:1px;height:18.4px;background:#e6e6e6"></div>
<div class="b" style="left:300.1px;top:310.7px;width:1px;height:18.4px;background:#e6e6e6"></div>
<div class="b" style="left:319.7px;top:310.7px;width:1px;height:18.4px;background:#e6e6e6"></div>
<div class="b" style="left:345px;top:310.7px;width:1px;height:18.4px;background:#e6e6e6"></div>
<div class="b" style="left:374.8px;top:310.7px;width:1px;height:18.4px;background:#e6e6e6"></div>
<div class="b" style="left:394.4px;top:310.7px;width:1px;height:18.4px;background:#e6e6e6"></div>
<div class="b" style="left:420px;top:310.7px;width:1px;height:18.4px;background:#e6e6e6"></div>
<div class="b" style="left:449.1px;top:310.7px;width:1px;height:18.4px;background:#e6e6e6"></div>
<div class="b" style="left:467.8px;top:310.7px;width:1px;height:18.4px;background:#e6e6e6"></div>
<div class="b" style="left:491.8px;top:310.7px;width:1px;height:18.4px;background:#e6e6e6"></div>
<div class="b" style="left:523px;top:310.7px;width:1px;height:18.4px;background:#e6e6e6"></div>
<div class="b" style="left:551.1px;top:310.7px;width:1px;height:18.4px;background:#e6e6e6"></div>
<div class="b" style="left:578.2px;top:310.7px;width:1px;height:18.4px;background:#e6e6e6"></div>
<div class="b" style="left:602px;top:310.7px;width:1px;height:18.4px;background:#e6e6e6"></div>
<div class="b" style="left:628.3px;top:310.7px;width:1px;height:18.4px;background:#e6e6e6"></div>
<div class="b" style="left:652.3px;top:310.7px;width:1px;height:18.4px;background:#e6e6e6"></div>
<div class="b" style="left:677.3px;top:310.7px;width:1px;height:18.4px;background:#e6e6e6"></div>
<div class="b" style="left:702.9px;top:310.7px;width:1px;height:18.4px;background:#e6e6e6"></div>
<div class="b" style="left:722.2px;top:310.7px;width:1px;height:18.4px;background:#e6e6e6"></div>
<div class="b" style="left:747px;top:310.7px;width:1px;height:18.4px;background:#e6e6e6"></div>
<div class="c rk" style="left:0px;top:312.3px;width:18.4px;height:18.4px;line-height:18.4px;text-align:right;padding-right:3.2px;"><span>57</span></div>
<div class="c g" style="left:18.4px;top:312.3px;width:18.3px;height:18.4px;line-height:18.4px;text-align:right;padding-right:3.2px;"><span>26</span></div>
<div class="c dt" style="left:36.7px;top:312.3px;width:61px;height:18.4px;line-height:18.4px;text-align:left;padding-left:3.2px;"><span>2025-02-22</span></div>
<div class="c d" style="left:97.7px;top:312.3px;width:39.7px;height:18.4px;line-height:18.4px;text-align:left;padding-left:3.2px;"><span>25-360</span></div>
<div class="c tm" style="left:137.4px;top:312.3px;width:23px;height:18.4px;line-height:18.4px;text-align:left;padding-left:3.2px;"><span>LAL</span></div>
<svg class="b" style="left:163.2px;top:316.1px" width="9" height="9" viewBox="0 0 9 9"><circle cx="4.5" cy="4.5" r="4.1" fill="#8e8e8e"/><circle cx="4.5" cy="4.5" r="3.5" fill="none" stroke="#686868" stroke-width="1"/><rect x="3.3" y="3.0" width="1.4" height="2.6" fill="#f0f0f0"/><rect x="4.8" y="2.7" width="1.3" height="3.2" fill="#555"/></svg>
<div class="c tm" style="left:175.3px;top:312.3px;width:27px;height:18.4px;line-height:18.4px;text-align:left;padding-left:3.2px;"><span>DEN</span></div>
<div class="c res" style="left:202.3px;top:312.3px;width:45.2px;height:18.4px;line-height:18.4px;text-align:center;"><span>W (+23)</span></div>
<div class="c d" style="left:247.5px;top:312.3px;width:19.8px;height:18.4px;line-height:18.4px;text-align:right;padding-right:3.2px;"><span>1</span></div>
<div class="c d" style="left:267.3px;top:312.3px;width:33.3px;height:18.4px;line-height:18.4px;text-align:right;padding-right:3.2px;"><span>30:38</span></div>
<div class="c d" style="left:300.6px;top:312.3px;width:19.6px;height:18.4px;line-height:18.4px;text-align:right;padding-right:3.2px;"><span>10</span></div>
<div class="c d" style="left:320.2px;top:312.3px;width:25.3px;height:18.4px;line-height:18.4px;text-align:right;padding-right:3.2px;"><span>22</span></div>
<div class="c d" style="left:345.5px;top:312.3px;width:29.8px;height:18.4px;line-height:18.4px;text-align:right;padding-right:3.2px;"><span>.455</span></div>
<div class="c d" style="left:375.3px;top:312.3px;width:19.6px;height:18.4px;line-height:18.4px;text-align:right;padding-right:3.2px;"><span>4</span></div>
<div class="c d" style="left:394.9px;top:312.3px;width:25.6px;height:18.4px;line-height:18.4px;text-align:right;padding-right:3.2px;"><span>9</span></div>
<div class="c d" style="left:420.5px;top:312.3px;width:29.1px;height:18.4px;line-height:18.4px;text-align:right;padding-right:3.2px;"><span>.444</span></div>
<div class="c d" style="left:449.6px;top:312.3px;width:18.7px;height:18.4px;line-height:18.4px;text-align:right;padding-right:3.2px;"><span>8</span></div>
<div class="c d" style="left:468.3px;top:312.3px;width:24px;height:18.4px;line-height:18.4px;text-align:right;padding-right:3.2px;"><span>8</span></div>
<div class="c d" style="left:492.3px;top:312.3px;width:31.2px;height:18.4px;line-height:18.4px;text-align:right;padding-right:3.2px;"><span>1.000</span></div>
<div class="c d" style="left:523.5px;top:312.3px;width:28.1px;height:18.4px;line-height:18.4px;text-align:right;padding-right:3.2px;"><span>1</span></div>
<div class="c d" style="left:551.6px;top:312.3px;width:27.1px;height:18.4px;line-height:18.4px;text-align:right;padding-right:3.2px;"><span>9</span></div>
<div class="c d" style="left:578.7px;top:312.3px;width:23.8px;height:18.4px;line-height:18.4px;text-align:right;padding-right:3.2px;"><span>10</span></div>
<div class="c d" style="left:602.5px;top:312.3px;width:26.3px;height:18.4px;line-height:18.4px;text-align:right;padding-right:3.2px;"><span>7</span></div>
<div class="c d" style="left:628.8px;top:312.3px;width:24px;height:18.4px;line-height:18.4px;text-align:right;padding-right:3.2px;"><span>4</span></div>
<div class="c d" style="left:652.8px;top:312.3px;width:25px;height:18.4px;line-height:18.4px;text-align:right;padding-right:3.2px;"><span>1</span></div>
<div class="c d" style="left:677.8px;top:312.3px;width:25.6px;height:18.4px;line-height:18.4px;text-align:right;padding-right:3.2px;"><span>1</span></div>
<div class="c d" style="left:703.4px;top:312.3px;width:19.3px;height:18.4px;line-height:18.4px;text-align:right;padding-right:3.2px;"><span>0</span></div>
<div class="c d" style="left:722.7px;top:312.3px;width:24.8px;height:18.4px;line-height:18.4px;text-align:right;padding-right:3.2px;"><span>32</span></div>
<div class="b" style="left:0px;top:347px;width:750px;height:1px;background:#f3f3f3"></div>
<div class="b" style="left:17.9px;top:329.1px;width:1px;height:18.4px;background:#e6e6e6"></div>
<div class="b" style="left:36.2px;top:329.1px;width:1px;height:18.4px;background:#e6e6e6"></div>
<div class="b" style="left:97.2px;top:329.1px;width:1px;height:18.4px;background:#e6e6e6"></div>
<div class="b" style="left:136.9px;top:329.1px;width:1px;height:18.4px;background:#e6e6e6"></div>
<div class="b" style="left:159.9px;top:329.1px;width:1px;height:18.4px;background:#e6e6e6"></div>
<div class="b" style="left:174.8px;top:329.1px;width:1px;height:18.4px;background:#e6e6e6"></div>
<div class="b" style="left:201.8px;top:329.1px;width:1px;height:18.4px;background:#e6e6e6"></div>
<div class="b" style="left:247px;top:329.1px;width:1px;height:18.4px;background:#e6e6e6"></div>
<div class="b" style="left:266.8px;top:329.1px;width:1px;height:18.4px;background:#e6e6e6"></div>
<div class="b" style="left:300.1px;top:329.1px;width:1px;height:18.4px;background:#e6e6e6"></div>
<div class="b" style="left:319.7px;top:329.1px;width:1px;height:18.4px;background:#e6e6e6"></div>
<div class="b" style="left:345px;top:329.1px;width:1px;height:18.4px;background:#e6e6e6"></div>
<div class="b" style="left:374.8px;top:329.1px;width:1px;height:18.4px;background:#e6e6e6"></div>
<div class="b" style="left:394.4px;top:329.1px;width:1px;height:18.4px;background:#e6e6e6"></div>
<div class="b" style="left:420px;top:329.1px;width:1px;height:18.4px;background:#e6e6e6"></div>
<div class="b" style="left:449.1px;top:329.1px;width:1px;height:18.4px;background:#e6e6e6"></div>
<div class="b" style="left:467.8px;top:329.1px;width:1px;height:18.4px;background:#e6e6e6"></div>
<div class="b" style="left:491.8px;top:329.1px;width:1px;height:18.4px;background:#e6e6e6"></div>
<div class="b" style="left:523px;top:329.1px;width:1px;height:18.4px;background:#e6e6e6"></div>
<div class="b" style="left:551.1px;top:329.1px;width:1px;height:18.4px;background:#e6e6e6"></div>
<div class="b" style="left:578.2px;top:329.1px;width:1px;height:18.4px;background:#e6e6e6"></div>
<div class="b" style="left:602px;top:329.1px;width:1px;height:18.4px;background:#e6e6e6"></div>
<div class="b" style="left:628.3px;top:329.1px;width:1px;height:18.4px;background:#e6e6e6"></div>
<div class="b" style="left:652.3px;top:329.1px;width:1px;height:18.4px;background:#e6e6e6"></div>
<div class="b" style="left:677.3px;top:329.1px;width:1px;height:18.4px;background:#e6e6e6"></div>
<div class="b" style="left:702.9px;top:329.1px;width:1px;height:18.4px;background:#e6e6e6"></div>
<div class="b" style="left:722.2px;top:329.1px;width:1px;height:18.4px;background:#e6e6e6"></div>
<div class="b" style="left:747px;top:329.1px;width:1px;height:18.4px;background:#e6e6e6"></div>
<div class="c rk" style="left:0px;top:330.7px;width:18.4px;height:18.4px;line-height:18.4px;text-align:right;padding-right:3.2px;"><span>58</span></div>
<div class="c g" style="left:18.4px;top:330.7px;width:18.3px;height:18.4px;line-height:18.4px;text-align:right;padding-right:3.2px;"><span>27</span></div>
<div class="c dt" style="left:36.7px;top:330.7px;width:61px;height:18.4px;line-height:18.4px;text-align:left;padding-left:3.2px;"><span>2025-02-25</span></div>
<div class="c d" style="left:97.7px;top:330.7px;width:39.7px;height:18.4px;line-height:18.4px;text-align:left;padding-left:3.2px;"><span>25-363</span></div>
<div class="c tm" style="left:137.4px;top:330.7px;width:23px;height:18.4px;line-height:18.4px;text-align:left;padding-left:3.2px;"><span>LAL</span></div>
<div class="c tm" style="left:175.3px;top:330.7px;width:27px;height:18.4px;line-height:18.4px;text-align:left;padding-left:3.2px;"><span>DAL</span></div>
<div class="c res" style="left:202.3px;top:330.7px;width:45.2px;height:18.4px;line-height:18.4px;text-align:center;"><span>W (+8)</span></div>
<div class="c d" style="left:247.5px;top:330.7px;width:19.8px;height:18.4px;line-height:18.4px;text-align:right;padding-right:3.2px;"><span>1</span></div>
<div class="c d" style="left:267.3px;top:330.7px;width:33.3px;height:18.4px;line-height:18.4px;text-align:right;padding-right:3.2px;"><span>35:18</span></div>
<div class="c d" style="left:300.6px;top:330.7px;width:19.6px;height:18.4px;line-height:18.4px;text-align:right;padding-right:3.2px;"><span>6</span></div>
<div class="c d" style="left:320.2px;top:330.7px;width:25.3px;height:18.4px;line-height:18.4px;text-align:right;padding-right:3.2px;"><span>17</span></div>
<div class="c d" style="left:345.5px;top:330.7px;width:29.8px;height:18.4px;line-height:18.4px;text-align:right;padding-right:3.2px;"><span>.353</span></div>
<div class="c d" style="left:375.3px;top:330.7px;width:19.6px;height:18.4px;line-height:18.4px;text-align:right;padding-right:3.2px;"><span>1</span></div>
<div class="c d" style="left:394.9px;top:330.7px;width:25.6px;height:18.4px;line-height:18.4px;text-align:right;padding-right:3.2px;"><span>7</span></div>
<div class="c d" style="left:420.5px;top:330.7px;width:29.1px;height:18.4px;line-height:18.4px;text-align:right;padding-right:3.2px;"><span>.143</span></div>
<div class="c d" style="left:449.6px;top:330.7px;width:18.7px;height:18.4px;line-height:18.4px;text-align:right;padding-right:3.2px;"><span>6</span></div>
<div class="c d" style="left:468.3px;top:330.7px;width:24px;height:18.4px;line-height:18.4px;text-align:right;padding-right:3.2px;"><span>8</span></div>
<div class="c d" style="left:492.3px;top:330.7px;width:31.2px;height:18.4px;line-height:18.4px;text-align:right;padding-right:3.2px;"><span>.750</span></div>
<div class="c d" style="left:523.5px;top:330.7px;width:28.1px;height:18.4px;line-height:18.4px;text-align:right;padding-right:3.2px;"><span>2</span></div>
<div class="c d" style="left:551.6px;top:330.7px;width:27.1px;height:18.4px;line-height:18.4px;text-align:right;padding-right:3.2px;"><span>13</span></div>
<div class="c d" style="left:578.7px;top:330.7px;width:23.8px;height:18.4px;line-height:18.4px;text-align:right;padding-right:3.2px;"><span>15</span></div>
<div class="c d" style="left:602.5px;top:330.7px;width:26.3px;height:18.4px;line-height:18.4px;text-align:right;padding-right:3.2px;"><span>12</span></div>
<div class="c d" style="left:628.8px;top:330.7px;width:24px;height:18.4px;line-height:18.4px;text-align:right;padding-right:3.2px;"><span>3</span></div>
<div class="c d" style="left:652.8px;top:330.7px;width:25px;height:18.4px;line-height:18.4px;text-align:right;padding-right:3.2px;"><span>2</span></div>
<div class="c d" style="left:677.8px;top:330.7px;width:25.6px;height:18.4px;line-height:18.4px;text-align:right;padding-right:3.2px;"><span>2</span></div>
<div class="c d" style="left:703.4px;top:330.7px;width:19.3px;height:18.4px;line-height:18.4px;text-align:right;padding-right:3.2px;"><span>2</span></div>
<div class="c d" style="left:722.7px;top:330.7px;width:24.8px;height:18.4px;line-height:18.4px;text-align:right;padding-right:3.2px;"><span>19</span></div>
<div class="b" style="left:0px;top:365.4px;width:750px;height:1px;background:#f3f3f3"></div>
<div class="b" style="left:17.9px;top:347.5px;width:1px;height:18.4px;background:#e6e6e6"></div>
<div class="b" style="left:36.2px;top:347.5px;width:1px;height:18.4px;background:#e6e6e6"></div>
<div class="b" style="left:97.2px;top:347.5px;width:1px;height:18.4px;background:#e6e6e6"></div>
<div class="b" style="left:136.9px;top:347.5px;width:1px;height:18.4px;background:#e6e6e6"></div>
<div class="b" style="left:159.9px;top:347.5px;width:1px;height:18.4px;background:#e6e6e6"></div>
<div class="b" style="left:174.8px;top:347.5px;width:1px;height:18.4px;background:#e6e6e6"></div>
<div class="b" style="left:201.8px;top:347.5px;width:1px;height:18.4px;background:#e6e6e6"></div>
<div class="b" style="left:247px;top:347.5px;width:1px;height:18.4px;background:#e6e6e6"></div>
<div class="b" style="left:266.8px;top:347.5px;width:1px;height:18.4px;background:#e6e6e6"></div>
<div class="b" style="left:300.1px;top:347.5px;width:1px;height:18.4px;background:#e6e6e6"></div>
<div class="b" style="left:319.7px;top:347.5px;width:1px;height:18.4px;background:#e6e6e6"></div>
<div class="b" style="left:345px;top:347.5px;width:1px;height:18.4px;background:#e6e6e6"></div>
<div class="b" style="left:374.8px;top:347.5px;width:1px;height:18.4px;background:#e6e6e6"></div>
<div class="b" style="left:394.4px;top:347.5px;width:1px;height:18.4px;background:#e6e6e6"></div>
<div class="b" style="left:420px;top:347.5px;width:1px;height:18.4px;background:#e6e6e6"></div>
<div class="b" style="left:449.1px;top:347.5px;width:1px;height:18.4px;background:#e6e6e6"></div>
<div class="b" style="left:467.8px;top:347.5px;width:1px;height:18.4px;background:#e6e6e6"></div>
<div class="b" style="left:491.8px;top:347.5px;width:1px;height:18.4px;background:#e6e6e6"></div>
<div class="b" style="left:523px;top:347.5px;width:1px;height:18.4px;background:#e6e6e6"></div>
<div class="b" style="left:551.1px;top:347.5px;width:1px;height:18.4px;background:#e6e6e6"></div>
<div class="b" style="left:578.2px;top:347.5px;width:1px;height:18.4px;background:#e6e6e6"></div>
<div class="b" style="left:602px;top:347.5px;width:1px;height:18.4px;background:#e6e6e6"></div>
<div class="b" style="left:628.3px;top:347.5px;width:1px;height:18.4px;background:#e6e6e6"></div>
<div class="b" style="left:652.3px;top:347.5px;width:1px;height:18.4px;background:#e6e6e6"></div>
<div class="b" style="left:677.3px;top:347.5px;width:1px;height:18.4px;background:#e6e6e6"></div>
<div class="b" style="left:702.9px;top:347.5px;width:1px;height:18.4px;background:#e6e6e6"></div>
<div class="b" style="left:722.2px;top:347.5px;width:1px;height:18.4px;background:#e6e6e6"></div>
<div class="b" style="left:747px;top:347.5px;width:1px;height:18.4px;background:#e6e6e6"></div>
<div class="c rk" style="left:0px;top:349.1px;width:18.4px;height:18.4px;line-height:18.4px;text-align:right;padding-right:3.2px;"><span>59</span></div>
<div class="c g" style="left:18.4px;top:349.1px;width:18.3px;height:18.4px;line-height:18.4px;text-align:right;padding-right:3.2px;"><span>28</span></div>
<div class="c dt vis" style="left:36.7px;top:349.1px;width:61px;height:18.4px;line-height:18.4px;text-align:left;padding-left:3.2px;"><span>2025-02-27</span></div>
<div class="c d" style="left:97.7px;top:349.1px;width:39.7px;height:18.4px;line-height:18.4px;text-align:left;padding-left:3.2px;"><span>25-365</span></div>
<div class="c tm" style="left:137.4px;top:349.1px;width:23px;height:18.4px;line-height:18.4px;text-align:left;padding-left:3.2px;"><span>LAL</span></div>
<div class="c tm" style="left:175.3px;top:349.1px;width:27px;height:18.4px;line-height:18.4px;text-align:left;padding-left:3.2px;"><span>MIN</span></div>
<div class="c res" style="left:202.3px;top:349.1px;width:45.2px;height:18.4px;line-height:18.4px;text-align:center;"><span>W (+9)</span></div>
<div class="c d" style="left:247.5px;top:349.1px;width:19.8px;height:18.4px;line-height:18.4px;text-align:right;padding-right:3.2px;"><span>1</span></div>
<div class="c d" style="left:267.3px;top:349.1px;width:33.3px;height:18.4px;line-height:18.4px;text-align:right;padding-right:3.2px;"><span>35:46</span></div>
<div class="c d" style="left:300.6px;top:349.1px;width:19.6px;height:18.4px;line-height:18.4px;text-align:right;padding-right:3.2px;"><span>6</span></div>
<div class="c d" style="left:320.2px;top:349.1px;width:25.3px;height:18.4px;line-height:18.4px;text-align:right;padding-right:3.2px;"><span>20</span></div>
<div class="c d" style="left:345.5px;top:349.1px;width:29.8px;height:18.4px;line-height:18.4px;text-align:right;padding-right:3.2px;"><span>.300</span></div>
<div class="c d" style="left:375.3px;top:349.1px;width:19.6px;height:18.4px;line-height:18.4px;text-align:right;padding-right:3.2px;"><span>1</span></div>
<div class="c d" style="left:394.9px;top:349.1px;width:25.6px;height:18.4px;line-height:18.4px;text-align:right;padding-right:3.2px;"><span>9</span></div>
<div class="c d" style="left:420.5px;top:349.1px;width:29.1px;height:18.4px;line-height:18.4px;text-align:right;padding-right:3.2px;"><span>.111</span></div>
<div class="c d" style="left:449.6px;top:349.1px;width:18.7px;height:18.4px;line-height:18.4px;text-align:right;padding-right:3.2px;"><span>8</span></div>
<div class="c d" style="left:468.3px;top:349.1px;width:24px;height:18.4px;line-height:18.4px;text-align:right;padding-right:3.2px;"><span>12</span></div>
<div class="c d" style="left:492.3px;top:349.1px;width:31.2px;height:18.4px;line-height:18.4px;text-align:right;padding-right:3.2px;"><span>.667</span></div>
<div class="c d" style="left:523.5px;top:349.1px;width:28.1px;height:18.4px;line-height:18.4px;text-align:right;padding-right:3.2px;"><span>2</span></div>
<div class="c d" style="left:551.6px;top:349.1px;width:27.1px;height:18.4px;line-height:18.4px;text-align:right;padding-right:3.2px;"><span>11</span></div>
<div class="c d" style="left:578.7px;top:349.1px;width:23.8px;height:18.4px;line-height:18.4px;text-align:right;padding-right:3.2px;"><span>13</span></div>
<div class="c d" style="left:602.5px;top:349.1px;width:26.3px;height:18.4px;line-height:18.4px;text-align:right;padding-right:3.2px;"><span>5</span></div>
<div class="c d" style="left:628.8px;top:349.1px;width:24px;height:18.4px;line-height:18.4px;text-align:right;padding-right:3.2px;"><span>0</span></div>
<div class="c d" style="left:652.8px;top:349.1px;width:25px;height:18.4px;line-height:18.4px;text-align:right;padding-right:3.2px;"><span>0</span></div>
<div class="c d" style="left:677.8px;top:349.1px;width:25.6px;height:18.4px;line-height:18.4px;text-align:right;padding-right:3.2px;"><span>3</span></div>
<div class="c d" style="left:703.4px;top:349.1px;width:19.3px;height:18.4px;line-height:18.4px;text-align:right;padding-right:3.2px;"><span>2</span></div>
<div class="c d" style="left:722.7px;top:349.1px;width:24.8px;height:18.4px;line-height:18.4px;text-align:right;padding-right:3.2px;"><span>21</span></div>
<div class="b" style="left:0px;top:383.8px;width:750px;height:1px;background:#f3f3f3"></div>
<div class="b" style="left:17.9px;top:365.9px;width:1px;height:18.4px;background:#e6e6e6"></div>
<div class="b" style="left:36.2px;top:365.9px;width:1px;height:18.4px;background:#e6e6e6"></div>
<div class="b" style="left:97.2px;top:365.9px;width:1px;height:18.4px;background:#e6e6e6"></div>
<div class="b" style="left:136.9px;top:365.9px;width:1px;height:18.4px;background:#e6e6e6"></div>
<div class="b" style="left:159.9px;top:365.9px;width:1px;height:18.4px;background:#e6e6e6"></div>
<div class="b" style="left:174.8px;top:365.9px;width:1px;height:18.4px;background:#e6e6e6"></div>
<div class="b" style="left:201.8px;top:365.9px;width:1px;height:18.4px;background:#e6e6e6"></div>
<div class="b" style="left:247px;top:365.9px;width:1px;height:18.4px;background:#e6e6e6"></div>
<div class="b" style="left:266.8px;top:365.9px;width:1px;height:18.4px;background:#e6e6e6"></div>
<div class="b" style="left:300.1px;top:365.9px;width:1px;height:18.4px;background:#e6e6e6"></div>
<div class="b" style="left:319.7px;top:365.9px;width:1px;height:18.4px;background:#e6e6e6"></div>
<div class="b" style="left:345px;top:365.9px;width:1px;height:18.4px;background:#e6e6e6"></div>
<div class="b" style="left:374.8px;top:365.9px;width:1px;height:18.4px;background:#e6e6e6"></div>
<div class="b" style="left:394.4px;top:365.9px;width:1px;height:18.4px;background:#e6e6e6"></div>
<div class="b" style="left:420px;top:365.9px;width:1px;height:18.4px;background:#e6e6e6"></div>
<div class="b" style="left:449.1px;top:365.9px;width:1px;height:18.4px;background:#e6e6e6"></div>
<div class="b" style="left:467.8px;top:365.9px;width:1px;height:18.4px;background:#e6e6e6"></div>
<div class="b" style="left:491.8px;top:365.9px;width:1px;height:18.4px;background:#e6e6e6"></div>
<div class="b" style="left:523px;top:365.9px;width:1px;height:18.4px;background:#e6e6e6"></div>
<div class="b" style="left:551.1px;top:365.9px;width:1px;height:18.4px;background:#e6e6e6"></div>
<div class="b" style="left:578.2px;top:365.9px;width:1px;height:18.4px;background:#e6e6e6"></div>
<div class="b" style="left:602px;top:365.9px;width:1px;height:18.4px;background:#e6e6e6"></div>
<div class="b" style="left:628.3px;top:365.9px;width:1px;height:18.4px;background:#e6e6e6"></div>
<div class="b" style="left:652.3px;top:365.9px;width:1px;height:18.4px;background:#e6e6e6"></div>
<div class="b" style="left:677.3px;top:365.9px;width:1px;height:18.4px;background:#e6e6e6"></div>
<div class="b" style="left:702.9px;top:365.9px;width:1px;height:18.4px;background:#e6e6e6"></div>
<div class="b" style="left:722.2px;top:365.9px;width:1px;height:18.4px;background:#e6e6e6"></div>
<div class="b" style="left:747px;top:365.9px;width:1px;height:18.4px;background:#e6e6e6"></div>
<div class="c rk" style="left:0px;top:367.5px;width:18.4px;height:18.4px;line-height:18.4px;text-align:right;padding-right:3.2px;"><span>60</span></div>
<div class="c g" style="left:18.4px;top:367.5px;width:18.3px;height:18.4px;line-height:18.4px;text-align:right;padding-right:3.2px;"><span>29</span></div>
<div class="c dt" style="left:36.7px;top:367.5px;width:61px;height:18.4px;line-height:18.4px;text-align:left;padding-left:3.2px;"><span>2025-02-28</span></div>
<div class="c d" style="left:97.7px;top:367.5px;width:39.7px;height:18.4px;line-height:18.4px;text-align:left;padding-left:3.2px;"><span>26-000</span></div>
<div class="c tm" style="left:137.4px;top:367.5px;width:23px;height:18.4px;line-height:18.4px;text-align:left;padding-left:3.2px;"><span>LAL</span></div>
<div class="c tm" style="left:175.3px;top:367.5px;width:27px;height:18.4px;line-height:18.4px;text-align:left;padding-left:3.2px;"><span>LAC</span></div>
<div class="c res" style="left:202.3px;top:367.5px;width:45.2px;height:18.4px;line-height:18.4px;text-align:center;"><span>W (+4)</span></div>
<div class="c d" style="left:247.5px;top:367.5px;width:19.8px;height:18.4px;line-height:18.4px;text-align:right;padding-right:3.2px;"><span>1</span></div>
<div class="c d" style="left:267.3px;top:367.5px;width:33.3px;height:18.4px;line-height:18.4px;text-align:right;padding-right:3.2px;"><span>35:06</span></div>
<div class="c d" style="left:300.6px;top:367.5px;width:19.6px;height:18.4px;line-height:18.4px;text-align:right;padding-right:3.2px;"><span>9</span></div>
<div class="c d" style="left:320.2px;top:367.5px;width:25.3px;height:18.4px;line-height:18.4px;text-align:right;padding-right:3.2px;"><span>22</span></div>
<div class="c d" style="left:345.5px;top:367.5px;width:29.8px;height:18.4px;line-height:18.4px;text-align:right;padding-right:3.2px;"><span>.409</span></div>
<div class="c d" style="left:375.3px;top:367.5px;width:19.6px;height:18.4px;line-height:18.4px;text-align:right;padding-right:3.2px;"><span>3</span></div>
<div class="c d" style="left:394.9px;top:367.5px;width:25.6px;height:18.4px;line-height:18.4px;text-align:right;padding-right:3.2px;"><span>9</span></div>
<div class="c d" style="left:420.5px;top:367.5px;width:29.1px;height:18.4px;line-height:18.4px;text-align:right;padding-right:3.2px;"><span>.333</span></div>
<div class="c d" style="left:449.6px;top:367.5px;width:18.7px;height:18.4px;line-height:18.4px;text-align:right;padding-right:3.2px;"><span>10</span></div>
<div class="c d" style="left:468.3px;top:367.5px;width:24px;height:18.4px;line-height:18.4px;text-align:right;padding-right:3.2px;"><span>11</span></div>
<div class="c d" style="left:492.3px;top:367.5px;width:31.2px;height:18.4px;line-height:18.4px;text-align:right;padding-right:3.2px;"><span>.909</span></div>
<div class="c d" style="left:523.5px;top:367.5px;width:28.1px;height:18.4px;line-height:18.4px;text-align:right;padding-right:3.2px;"><span>1</span></div>
<div class="c d" style="left:551.6px;top:367.5px;width:27.1px;height:18.4px;line-height:18.4px;text-align:right;padding-right:3.2px;"><span>1</span></div>
<div class="c d" style="left:578.7px;top:367.5px;width:23.8px;height:18.4px;line-height:18.4px;text-align:right;padding-right:3.2px;"><span>2</span></div>
<div class="c d" style="left:602.5px;top:367.5px;width:26.3px;height:18.4px;line-height:18.4px;text-align:right;padding-right:3.2px;"><span>5</span></div>
<div class="c d" style="left:628.8px;top:367.5px;width:24px;height:18.4px;line-height:18.4px;text-align:right;padding-right:3.2px;"><span>3</span></div>
<div class="c d" style="left:652.8px;top:367.5px;width:25px;height:18.4px;line-height:18.4px;text-align:right;padding-right:3.2px;"><span>0</span></div>
<div class="c d" style="left:677.8px;top:367.5px;width:25.6px;height:18.4px;line-height:18.4px;text-align:right;padding-right:3.2px;"><span>6</span></div>
<div class="c d" style="left:703.4px;top:367.5px;width:19.3px;height:18.4px;line-height:18.4px;text-align:right;padding-right:3.2px;"><span>5</span></div>
<div class="c d" style="left:722.7px;top:367.5px;width:24.8px;height:18.4px;line-height:18.4px;text-align:right;padding-right:3.2px;"><span>31</span></div>
<div class="b" style="left:0px;top:384.3px;width:750px;height:19.3px;background:#ececec"></div>
<div class="b" style="left:17.9px;top:385.3px;width:1px;height:17.3px;background:#f4f4f4"></div>
<div class="b" style="left:36.2px;top:385.3px;width:1px;height:17.3px;background:#f4f4f4"></div>
<div class="b" style="left:97.2px;top:385.3px;width:1px;height:17.3px;background:#f4f4f4"></div>
<div class="b" style="left:136.9px;top:385.3px;width:1px;height:17.3px;background:#f4f4f4"></div>
<div class="b" style="left:159.9px;top:385.3px;width:1px;height:17.3px;background:#f4f4f4"></div>
<div class="b" style="left:174.8px;top:385.3px;width:1px;height:17.3px;background:#f4f4f4"></div>
<div class="b" style="left:201.8px;top:385.3px;width:1px;height:17.3px;background:#f4f4f4"></div>
<div class="b" style="left:247px;top:385.3px;width:1px;height:17.3px;background:#f4f4f4"></div>
<div class="b" style="left:266.8px;top:385.3px;width:1px;height:17.3px;background:#f4f4f4"></div>
<div class="b" style="left:300.1px;top:385.3px;width:1px;height:17.3px;background:#f4f4f4"></div>
<div class="b" style="left:319.7px;top:385.3px;width:1px;height:17.3px;background:#f4f4f4"></div>
<div class="b" style="left:345px;top:385.3px;width:1px;height:17.3px;background:#f4f4f4"></div>
<div class="b" style="left:374.8px;top:385.3px;width:1px;height:17.3px;background:#f4f4f4"></div>
<div class="b" style="left:394.4px;top:385.3px;width:1px;height:17.3px;background:#f4f4f4"></div>
<div class="b" style="left:420px;top:385.3px;width:1px;height:17.3px;background:#f4f4f4"></div>
<div class="b" style="left:449.1px;top:385.3px;width:1px;height:17.3px;background:#f4f4f4"></div>
<div class="b" style="left:467.8px;top:385.3px;width:1px;height:17.3px;background:#f4f4f4"></div>
<div class="b" style="left:491.8px;top:385.3px;width:1px;height:17.3px;background:#f4f4f4"></div>
<div class="b" style="left:523px;top:385.3px;width:1px;height:17.3px;background:#f4f4f4"></div>
<div class="b" style="left:551.1px;top:385.3px;width:1px;height:17.3px;background:#f4f4f4"></div>
<div class="b" style="left:578.2px;top:385.3px;width:1px;height:17.3px;background:#f4f4f4"></div>
<div class="b" style="left:602px;top:385.3px;width:1px;height:17.3px;background:#f4f4f4"></div>
<div class="b" style="left:628.3px;top:385.3px;width:1px;height:17.3px;background:#f4f4f4"></div>
<div class="b" style="left:652.3px;top:385.3px;width:1px;height:17.3px;background:#f4f4f4"></div>
<div class="b" style="left:677.3px;top:385.3px;width:1px;height:17.3px;background:#f4f4f4"></div>
<div class="b" style="left:702.9px;top:385.3px;width:1px;height:17.3px;background:#f4f4f4"></div>
<div class="b" style="left:722.2px;top:385.3px;width:1px;height:17.3px;background:#f4f4f4"></div>
<div class="b" style="left:747px;top:385.3px;width:1px;height:17.3px;background:#f4f4f4"></div>
<div class="b" style="left:0px;top:402.6px;width:750px;height:1px;background:#b0b0b0"></div>
<div class="b" style="left:0px;top:384.3px;width:750px;height:1px;background:#b0b0b0"></div>
<div class="c h" style="left:0px;top:385.8px;width:18.4px;height:17.3px;line-height:17.3px;text-align:center;"><span style="transform:scaleX(0.937);position:relative;left:0.0px">Rk</span></div>
<div class="c h" style="left:18.4px;top:385.8px;width:18.3px;height:17.3px;line-height:17.3px;text-align:center;"><span style="transform:scaleX(1.095);position:relative;left:0.1px">G</span></div>
<div class="c h" style="left:36.7px;top:385.8px;width:61px;height:17.3px;line-height:17.3px;text-align:center;"><span style="transform:scaleX(1.1);position:relative;left:0.2px">Date</span></div>
<div class="c h" style="left:97.7px;top:385.8px;width:39.7px;height:17.3px;line-height:17.3px;text-align:center;"><span style="transform:scaleX(1.006);position:relative;left:-0.3px">Age</span></div>
<div class="c h" style="left:137.4px;top:385.8px;width:23px;height:17.3px;line-height:17.3px;text-align:center;"><span style="transform:scaleX(0.987);position:relative;left:-0.4px">Tm</span></div>
<div class="c h" style="left:175.3px;top:385.8px;width:27px;height:17.3px;line-height:17.3px;text-align:center;"><span style="transform:scaleX(1.029);position:relative;left:0.0px">Opp</span></div>
<div class="c h" style="left:247.5px;top:385.8px;width:19.8px;height:17.3px;line-height:17.3px;text-align:center;"><span style="transform:scaleX(1.05);position:relative;left:0.7px">GS</span></div>
<div class="c h" style="left:267.3px;top:385.8px;width:33.3px;height:17.3px;line-height:17.3px;text-align:center;"><span style="transform:scaleX(1.008);position:relative;left:-0.6px">MP</span></div>
<div class="c h" style="left:300.6px;top:385.8px;width:19.6px;height:17.3px;line-height:17.3px;text-align:center;"><span style="transform:scaleX(0.945);position:relative;left:-1.0px">FG</span></div>
<div class="c h" style="left:320.2px;top:385.8px;width:25.3px;height:17.3px;line-height:17.3px;text-align:center;"><span style="transform:scaleX(0.97);position:relative;left:-0.8px">FGA</span></div>
<div class="c h" style="left:345.5px;top:385.8px;width:29.8px;height:17.3px;line-height:17.3px;text-align:center;"><span style="transform:scaleX(1.087);position:relative;left:-0.5px">FG%</span></div>
<div class="c h" style="left:375.3px;top:385.8px;width:19.6px;height:17.3px;line-height:17.3px;text-align:center;"><span style="transform:scaleX(1.103);position:relative;left:0.0px">3P</span></div>
<div class="c h" style="left:394.9px;top:385.8px;width:25.6px;height:17.3px;line-height:17.3px;text-align:center;"><span style="transform:scaleX(1.143);position:relative;left:-0.9px">3PA</span></div>
<div class="c h" style="left:420.5px;top:385.8px;width:29.1px;height:17.3px;line-height:17.3px;text-align:center;"><span style="transform:scaleX(1.19);position:relative;left:-0.3px">3P%</span></div>
<div class="c h" style="left:449.6px;top:385.8px;width:18.7px;height:17.3px;line-height:17.3px;text-align:center;"><span style="transform:scaleX(0.963);position:relative;left:0.2px">FT</span></div>
<div class="c h" style="left:468.3px;top:385.8px;width:24px;height:17.3px;line-height:17.3px;text-align:center;"><span style="transform:scaleX(1.068);position:relative;left:0.1px">FTA</span></div>
<div class="c h" style="left:492.3px;top:385.8px;width:31.2px;height:17.3px;line-height:17.3px;text-align:center;"><span style="transform:scaleX(1.085);position:relative;left:0.0px">FT%</span></div>
<div class="c h" style="left:523.5px;top:385.8px;width:28.1px;height:17.3px;line-height:17.3px;text-align:center;"><span style="transform:scaleX(0.973);position:relative;left:0.1px">ORB</span></div>
<div class="c h" style="left:551.6px;top:385.8px;width:27.1px;height:17.3px;line-height:17.3px;text-align:center;"><span style="transform:scaleX(1.0);position:relative;left:-0.2px">DRB</span></div>
<div class="c h" style="left:578.7px;top:385.8px;width:23.8px;height:17.3px;line-height:17.3px;text-align:center;"><span style="transform:scaleX(0.92);position:relative;left:0.7px">TRB</span></div>
<div class="c h" style="left:602.5px;top:385.8px;width:26.3px;height:17.3px;line-height:17.3px;text-align:center;"><span style="transform:scaleX(0.956);position:relative;left:-0.2px">AST</span></div>
<div class="c h" style="left:628.8px;top:385.8px;width:24px;height:17.3px;line-height:17.3px;text-align:center;"><span style="transform:scaleX(1.028);position:relative;left:-1.5px">STL</span></div>
<div class="c h" style="left:652.8px;top:385.8px;width:25px;height:17.3px;line-height:17.3px;text-align:center;"><span style="transform:scaleX(0.982);position:relative;left:0.2px">BLK</span></div>
<div class="c h" style="left:677.8px;top:385.8px;width:25.6px;height:17.3px;line-height:17.3px;text-align:center;"><span style="transform:scaleX(0.98);position:relative;left:0.0px">TOV</span></div>
<div class="c h" style="left:703.4px;top:385.8px;width:19.3px;height:17.3px;line-height:17.3px;text-align:center;"><span style="transform:scaleX(0.969);position:relative;left:-0.5px">PF</span></div>
<div class="c h" style="left:722.7px;top:385.8px;width:24.8px;height:17.3px;line-height:17.3px;text-align:center;"><span style="transform:scaleX(1.033);position:relative;left:-1.1px">PTS</span></div>
<div class="b" style="left:0px;top:421.1px;width:750px;height:1px;background:#f3f3f3"></div>
<div class="b" style="left:17.9px;top:403.2px;width:1px;height:18.4px;background:#e6e6e6"></div>
<div class="b" style="left:36.2px;top:403.2px;width:1px;height:18.4px;background:#e6e6e6"></div>
<div class="b" style="left:97.2px;top:403.2px;width:1px;height:18.4px;background:#e6e6e6"></div>
<div class="b" style="left:136.9px;top:403.2px;width:1px;height:18.4px;background:#e6e6e6"></div>
<div class="b" style="left:159.9px;top:403.2px;width:1px;height:18.4px;background:#e6e6e6"></div>
<div class="b" style="left:174.8px;top:403.2px;width:1px;height:18.4px;background:#e6e6e6"></div>
<div class="b" style="left:201.8px;top:403.2px;width:1px;height:18.4px;background:#e6e6e6"></div>
<div class="b" style="left:247px;top:403.2px;width:1px;height:18.4px;background:#e6e6e6"></div>
<div class="b" style="left:266.8px;top:403.2px;width:1px;height:18.4px;background:#e6e6e6"></div>
<div class="b" style="left:300.1px;top:403.2px;width:1px;height:18.4px;background:#e6e6e6"></div>
<div class="b" style="left:319.7px;top:403.2px;width:1px;height:18.4px;background:#e6e6e6"></div>
<div class="b" style="left:345px;top:403.2px;width:1px;height:18.4px;background:#e6e6e6"></div>
<div class="b" style="left:374.8px;top:403.2px;width:1px;height:18.4px;background:#e6e6e6"></div>
<div class="b" style="left:394.4px;top:403.2px;width:1px;height:18.4px;background:#e6e6e6"></div>
<div class="b" style="left:420px;top:403.2px;width:1px;height:18.4px;background:#e6e6e6"></div>
<div class="b" style="left:449.1px;top:403.2px;width:1px;height:18.4px;background:#e6e6e6"></div>
<div class="b" style="left:467.8px;top:403.2px;width:1px;height:18.4px;background:#e6e6e6"></div>
<div class="b" style="left:491.8px;top:403.2px;width:1px;height:18.4px;background:#e6e6e6"></div>
<div class="b" style="left:523px;top:403.2px;width:1px;height:18.4px;background:#e6e6e6"></div>
<div class="b" style="left:551.1px;top:403.2px;width:1px;height:18.4px;background:#e6e6e6"></div>
<div class="b" style="left:578.2px;top:403.2px;width:1px;height:18.4px;background:#e6e6e6"></div>
<div class="b" style="left:602px;top:403.2px;width:1px;height:18.4px;background:#e6e6e6"></div>
<div class="b" style="left:628.3px;top:403.2px;width:1px;height:18.4px;background:#e6e6e6"></div>
<div class="b" style="left:652.3px;top:403.2px;width:1px;height:18.4px;background:#e6e6e6"></div>
<div class="b" style="left:677.3px;top:403.2px;width:1px;height:18.4px;background:#e6e6e6"></div>
<div class="b" style="left:702.9px;top:403.2px;width:1px;height:18.4px;background:#e6e6e6"></div>
<div class="b" style="left:722.2px;top:403.2px;width:1px;height:18.4px;background:#e6e6e6"></div>
<div class="b" style="left:747px;top:403.2px;width:1px;height:18.4px;background:#e6e6e6"></div>
<div class="c rk" style="left:0px;top:404.8px;width:18.4px;height:18.4px;line-height:18.4px;text-align:right;padding-right:3.2px;"><span>61</span></div>
<div class="c g" style="left:18.4px;top:404.8px;width:18.3px;height:18.4px;line-height:18.4px;text-align:right;padding-right:3.2px;"><span>30</span></div>
<div class="c dt" style="left:36.7px;top:404.8px;width:61px;height:18.4px;line-height:18.4px;text-align:left;padding-left:3.2px;"><span>2025-03-02</span></div>
<div class="c d" style="left:97.7px;top:404.8px;width:39.7px;height:18.4px;line-height:18.4px;text-align:left;padding-left:3.2px;"><span>26-002</span></div>
<div class="c tm" style="left:137.4px;top:404.8px;width:23px;height:18.4px;line-height:18.4px;text-align:left;padding-left:3.2px;"><span>LAL</span></div>
<div class="c tm" style="left:175.3px;top:404.8px;width:27px;height:18.4px;line-height:18.4px;text-align:left;padding-left:3.2px;"><span>LAC</span></div>
<div class="c res" style="left:202.3px;top:404.8px;width:45.2px;height:18.4px;line-height:18.4px;text-align:center;"><span>W (+6)</span></div>
<div class="c d" style="left:247.5px;top:404.8px;width:19.8px;height:18.4px;line-height:18.4px;text-align:right;padding-right:3.2px;"><span>1</span></div>
<div class="c d" style="left:267.3px;top:404.8px;width:33.3px;height:18.4px;line-height:18.4px;text-align:right;padding-right:3.2px;"><span>36:58</span></div>
<div class="c d" style="left:300.6px;top:404.8px;width:19.6px;height:18.4px;line-height:18.4px;text-align:right;padding-right:3.2px;"><span>9</span></div>
<div class="c d" style="left:320.2px;top:404.8px;width:25.3px;height:18.4px;line-height:18.4px;text-align:right;padding-right:3.2px;"><span>17</span></div>
<div class="c d" style="left:345.5px;top:404.8px;width:29.8px;height:18.4px;line-height:18.4px;text-align:right;padding-right:3.2px;"><span>.529</span></div>
<div class="c d" style="left:375.3px;top:404.8px;width:19.6px;height:18.4px;line-height:18.4px;text-align:right;padding-right:3.2px;"><span>5</span></div>
<div class="c d" style="left:394.9px;top:404.8px;width:25.6px;height:18.4px;line-height:18.4px;text-align:right;padding-right:3.2px;"><span>12</span></div>
<div class="c d" style="left:420.5px;top:404.8px;width:29.1px;height:18.4px;line-height:18.4px;text-align:right;padding-right:3.2px;"><span>.417</span></div>
<div class="c d" style="left:449.6px;top:404.8px;width:18.7px;height:18.4px;line-height:18.4px;text-align:right;padding-right:3.2px;"><span>6</span></div>
<div class="c d" style="left:468.3px;top:404.8px;width:24px;height:18.4px;line-height:18.4px;text-align:right;padding-right:3.2px;"><span>9</span></div>
<div class="c d" style="left:492.3px;top:404.8px;width:31.2px;height:18.4px;line-height:18.4px;text-align:right;padding-right:3.2px;"><span>.667</span></div>
<div class="c d" style="left:523.5px;top:404.8px;width:28.1px;height:18.4px;line-height:18.4px;text-align:right;padding-right:3.2px;"><span>0</span></div>
<div class="c d" style="left:551.6px;top:404.8px;width:27.1px;height:18.4px;line-height:18.4px;text-align:right;padding-right:3.2px;"><span>6</span></div>
<div class="c d" style="left:578.7px;top:404.8px;width:23.8px;height:18.4px;line-height:18.4px;text-align:right;padding-right:3.2px;"><span>6</span></div>
<div class="c d" style="left:602.5px;top:404.8px;width:26.3px;height:18.4px;line-height:18.4px;text-align:right;padding-right:3.2px;"><span>9</span></div>
<div class="c d" style="left:628.8px;top:404.8px;width:24px;height:18.4px;line-height:18.4px;text-align:right;padding-right:3.2px;"><span>2</span></div>
<div class="c d" style="left:652.8px;top:404.8px;width:25px;height:18.4px;line-height:18.4px;text-align:right;padding-right:3.2px;"><span>0</span></div>
<div class="c d" style="left:677.8px;top:404.8px;width:25.6px;height:18.4px;line-height:18.4px;text-align:right;padding-right:3.2px;"><span>6</span></div>
<div class="c d" style="left:703.4px;top:404.8px;width:19.3px;height:18.4px;line-height:18.4px;text-align:right;padding-right:3.2px;"><span>2</span></div>
<div class="c d" style="left:722.7px;top:404.8px;width:24.8px;height:18.4px;line-height:18.4px;text-align:right;padding-right:3.2px;"><span>29</span></div>
<div class="b" style="left:0px;top:439.5px;width:750px;height:1px;background:#f3f3f3"></div>
<div class="b" style="left:17.9px;top:421.6px;width:1px;height:18.4px;background:#e6e6e6"></div>
<div class="b" style="left:36.2px;top:421.6px;width:1px;height:18.4px;background:#e6e6e6"></div>
<div class="b" style="left:97.2px;top:421.6px;width:1px;height:18.4px;background:#e6e6e6"></div>
<div class="b" style="left:136.9px;top:421.6px;width:1px;height:18.4px;background:#e6e6e6"></div>
<div class="b" style="left:159.9px;top:421.6px;width:1px;height:18.4px;background:#e6e6e6"></div>
<div class="b" style="left:174.8px;top:421.6px;width:1px;height:18.4px;background:#e6e6e6"></div>
<div class="b" style="left:201.8px;top:421.6px;width:1px;height:18.4px;background:#e6e6e6"></div>
<div class="b" style="left:247px;top:421.6px;width:1px;height:18.4px;background:#e6e6e6"></div>
<div class="b" style="left:266.8px;top:421.6px;width:1px;height:18.4px;background:#e6e6e6"></div>
<div class="b" style="left:300.1px;top:421.6px;width:1px;height:18.4px;background:#e6e6e6"></div>
<div class="b" style="left:319.7px;top:421.6px;width:1px;height:18.4px;background:#e6e6e6"></div>
<div class="b" style="left:345px;top:421.6px;width:1px;height:18.4px;background:#e6e6e6"></div>
<div class="b" style="left:374.8px;top:421.6px;width:1px;height:18.4px;background:#e6e6e6"></div>
<div class="b" style="left:394.4px;top:421.6px;width:1px;height:18.4px;background:#e6e6e6"></div>
<div class="b" style="left:420px;top:421.6px;width:1px;height:18.4px;background:#e6e6e6"></div>
<div class="b" style="left:449.1px;top:421.6px;width:1px;height:18.4px;background:#e6e6e6"></div>
<div class="b" style="left:467.8px;top:421.6px;width:1px;height:18.4px;background:#e6e6e6"></div>
<div class="b" style="left:491.8px;top:421.6px;width:1px;height:18.4px;background:#e6e6e6"></div>
<div class="b" style="left:523px;top:421.6px;width:1px;height:18.4px;background:#e6e6e6"></div>
<div class="b" style="left:551.1px;top:421.6px;width:1px;height:18.4px;background:#e6e6e6"></div>
<div class="b" style="left:578.2px;top:421.6px;width:1px;height:18.4px;background:#e6e6e6"></div>
<div class="b" style="left:602px;top:421.6px;width:1px;height:18.4px;background:#e6e6e6"></div>
<div class="b" style="left:628.3px;top:421.6px;width:1px;height:18.4px;background:#e6e6e6"></div>
<div class="b" style="left:652.3px;top:421.6px;width:1px;height:18.4px;background:#e6e6e6"></div>
<div class="b" style="left:677.3px;top:421.6px;width:1px;height:18.4px;background:#e6e6e6"></div>
<div class="b" style="left:702.9px;top:421.6px;width:1px;height:18.4px;background:#e6e6e6"></div>
<div class="b" style="left:722.2px;top:421.6px;width:1px;height:18.4px;background:#e6e6e6"></div>
<div class="b" style="left:747px;top:421.6px;width:1px;height:18.4px;background:#e6e6e6"></div>
<div class="c rk" style="left:0px;top:423.2px;width:18.4px;height:18.4px;line-height:18.4px;text-align:right;padding-right:3.2px;"><span>62</span></div>
<div class="c g" style="left:18.4px;top:423.2px;width:18.3px;height:18.4px;line-height:18.4px;text-align:right;padding-right:3.2px;"><span>31</span></div>
<div class="c dt" style="left:36.7px;top:423.2px;width:61px;height:18.4px;line-height:18.4px;text-align:left;padding-left:3.2px;"><span>2025-03-04</span></div>
<div class="c d" style="left:97.7px;top:423.2px;width:39.7px;height:18.4px;line-height:18.4px;text-align:left;padding-left:3.2px;"><span>26-004</span></div>
<div class="c tm" style="left:137.4px;top:423.2px;width:23px;height:18.4px;line-height:18.4px;text-align:left;padding-left:3.2px;"><span>LAL</span></div>
<div class="c tm" style="left:175.3px;top:423.2px;width:27px;height:18.4px;line-height:18.4px;text-align:left;padding-left:3.2px;"><span>NOP</span></div>
<div class="c res" style="left:202.3px;top:423.2px;width:45.2px;height:18.4px;line-height:18.4px;text-align:center;"><span>W (+21)</span></div>
<div class="c d" style="left:247.5px;top:423.2px;width:19.8px;height:18.4px;line-height:18.4px;text-align:right;padding-right:3.2px;"><span>1</span></div>
<div class="c d" style="left:267.3px;top:423.2px;width:33.3px;height:18.4px;line-height:18.4px;text-align:right;padding-right:3.2px;"><span>34:07</span></div>
<div class="c d" style="left:300.6px;top:423.2px;width:19.6px;height:18.4px;line-height:18.4px;text-align:right;padding-right:3.2px;"><span>9</span></div>
<div class="c d" style="left:320.2px;top:423.2px;width:25.3px;height:18.4px;line-height:18.4px;text-align:right;padding-right:3.2px;"><span>19</span></div>
<div class="c d" style="left:345.5px;top:423.2px;width:29.8px;height:18.4px;line-height:18.4px;text-align:right;padding-right:3.2px;"><span>.474</span></div>
<div class="c d" style="left:375.3px;top:423.2px;width:19.6px;height:18.4px;line-height:18.4px;text-align:right;padding-right:3.2px;"><span>6</span></div>
<div class="c d" style="left:394.9px;top:423.2px;width:25.6px;height:18.4px;line-height:18.4px;text-align:right;padding-right:3.2px;"><span>13</span></div>
<div class="c d" style="left:420.5px;top:423.2px;width:29.1px;height:18.4px;line-height:18.4px;text-align:right;padding-right:3.2px;"><span>.462</span></div>
<div class="c d" style="left:449.6px;top:423.2px;width:18.7px;height:18.4px;line-height:18.4px;text-align:right;padding-right:3.2px;"><span>6</span></div>
<div class="c d" style="left:468.3px;top:423.2px;width:24px;height:18.4px;line-height:18.4px;text-align:right;padding-right:3.2px;"><span>11</span></div>
<div class="c d" style="left:492.3px;top:423.2px;width:31.2px;height:18.4px;line-height:18.4px;text-align:right;padding-right:3.2px;"><span>.545</span></div>
<div class="c d" style="left:523.5px;top:423.2px;width:28.1px;height:18.4px;line-height:18.4px;text-align:right;padding-right:3.2px;"><span>1</span></div>
<div class="c d" style="left:551.6px;top:423.2px;width:27.1px;height:18.4px;line-height:18.4px;text-align:right;padding-right:3.2px;"><span>7</span></div>
<div class="c d" style="left:578.7px;top:423.2px;width:23.8px;height:18.4px;line-height:18.4px;text-align:right;padding-right:3.2px;"><span>8</span></div>
<div class="c d" style="left:602.5px;top:423.2px;width:26.3px;height:18.4px;line-height:18.4px;text-align:right;padding-right:3.2px;"><span>15</span></div>
<div class="c d" style="left:628.8px;top:423.2px;width:24px;height:18.4px;line-height:18.4px;text-align:right;padding-right:3.2px;"><span>1</span></div>
<div class="c d" style="left:652.8px;top:423.2px;width:25px;height:18.4px;line-height:18.4px;text-align:right;padding-right:3.2px;"><span>1</span></div>
<div class="c d" style="left:677.8px;top:423.2px;width:25.6px;height:18.4px;line-height:18.4px;text-align:right;padding-right:3.2px;"><span>5</span></div>
<div class="c d" style="left:703.4px;top:423.2px;width:19.3px;height:18.4px;line-height:18.4px;text-align:right;padding-right:3.2px;"><span>0</span></div>
<div class="c d" style="left:722.7px;top:423.2px;width:24.8px;height:18.4px;line-height:18.4px;text-align:right;padding-right:3.2px;"><span>30</span></div>
<div class="b" style="left:0px;top:456.9px;width:750px;height:1px;background:#f3f3f3"></div>
<div class="b" style="left:17.9px;top:440px;width:1px;height:17.4px;background:#e6e6e6"></div>
<div class="b" style="left:36.2px;top:440px;width:1px;height:17.4px;background:#e6e6e6"></div>
<div class="b" style="left:97.2px;top:440px;width:1px;height:17.4px;background:#e6e6e6"></div>
<div class="b" style="left:136.9px;top:440px;width:1px;height:17.4px;background:#e6e6e6"></div>
<div class="b" style="left:159.9px;top:440px;width:1px;height:17.4px;background:#e6e6e6"></div>
<div class="b" style="left:174.8px;top:440px;width:1px;height:17.4px;background:#e6e6e6"></div>
<div class="b" style="left:201.8px;top:440px;width:1px;height:17.4px;background:#e6e6e6"></div>
<div class="b" style="left:247px;top:440px;width:1px;height:17.4px;background:#e6e6e6"></div>
<div class="b" style="left:266.8px;top:440px;width:1px;height:17.4px;background:#e6e6e6"></div>
<div class="b" style="left:300.1px;top:440px;width:1px;height:17.4px;background:#e6e6e6"></div>
<div class="b" style="left:319.7px;top:440px;width:1px;height:17.4px;background:#e6e6e6"></div>
<div class="b" style="left:345px;top:440px;width:1px;height:17.4px;background:#e6e6e6"></div>
<div class="b" style="left:374.8px;top:440px;width:1px;height:17.4px;background:#e6e6e6"></div>
<div class="b" style="left:394.4px;top:440px;width:1px;height:17.4px;background:#e6e6e6"></div>
<div class="b" style="left:420px;top:440px;width:1px;height:17.4px;background:#e6e6e6"></div>
<div class="b" style="left:449.1px;top:440px;width:1px;height:17.4px;background:#e6e6e6"></div>
<div class="b" style="left:467.8px;top:440px;width:1px;height:17.4px;background:#e6e6e6"></div>
<div class="b" style="left:491.8px;top:440px;width:1px;height:17.4px;background:#e6e6e6"></div>
<div class="b" style="left:523px;top:440px;width:1px;height:17.4px;background:#e6e6e6"></div>
<div class="b" style="left:551.1px;top:440px;width:1px;height:17.4px;background:#e6e6e6"></div>
<div class="b" style="left:578.2px;top:440px;width:1px;height:17.4px;background:#e6e6e6"></div>
<div class="b" style="left:602px;top:440px;width:1px;height:17.4px;background:#e6e6e6"></div>
<div class="b" style="left:628.3px;top:440px;width:1px;height:17.4px;background:#e6e6e6"></div>
<div class="b" style="left:652.3px;top:440px;width:1px;height:17.4px;background:#e6e6e6"></div>
<div class="b" style="left:677.3px;top:440px;width:1px;height:17.4px;background:#e6e6e6"></div>
<div class="b" style="left:702.9px;top:440px;width:1px;height:17.4px;background:#e6e6e6"></div>
<div class="b" style="left:722.2px;top:440px;width:1px;height:17.4px;background:#e6e6e6"></div>
<div class="b" style="left:747px;top:440px;width:1px;height:17.4px;background:#e6e6e6"></div>
<div class="c rk" style="left:0px;top:441.6px;width:18.4px;height:17.4px;line-height:17.4px;text-align:right;padding-right:3.2px;"><span>63</span></div>
<div class="c g" style="left:18.4px;top:441.6px;width:18.3px;height:17.4px;line-height:17.4px;text-align:right;padding-right:3.2px;"><span>32</span></div>
<div class="c dt" style="left:36.7px;top:441.6px;width:61px;height:17.4px;line-height:17.4px;text-align:left;padding-left:3.2px;"><span>2025-03-06</span></div>
<div class="c d" style="left:97.7px;top:441.6px;width:39.7px;height:17.4px;line-height:17.4px;text-align:left;padding-left:3.2px;"><span>26-006</span></div>
<div class="c tm" style="left:137.4px;top:441.6px;width:23px;height:17.4px;line-height:17.4px;text-align:left;padding-left:3.2px;"><span>LAL</span></div>
<div class="c tm" style="left:175.3px;top:441.6px;width:27px;height:17.4px;line-height:17.4px;text-align:left;padding-left:3.2px;"><span>NYK</span></div>
<div class="c res" style="left:202.3px;top:441.6px;width:45.2px;height:17.4px;line-height:17.4px;text-align:center;"><span>W (+4)</span></div>
<div class="c d" style="left:247.5px;top:441.6px;width:19.8px;height:17.4px;line-height:17.4px;text-align:right;padding-right:3.2px;"><span>1</span></div>
<div class="c d" style="left:267.3px;top:441.6px;width:33.3px;height:17.4px;line-height:17.4px;text-align:right;padding-right:3.2px;"><span>43:15</span></div>
<div class="c d" style="left:300.6px;top:441.6px;width:19.6px;height:17.4px;line-height:17.4px;text-align:right;padding-right:3.2px;"><span>9</span></div>
<div class="c d" style="left:320.2px;top:441.6px;width:25.3px;height:17.4px;line-height:17.4px;text-align:right;padding-right:3.2px;"><span>23</span></div>
<div class="c d" style="left:345.5px;top:441.6px;width:29.8px;height:17.4px;line-height:17.4px;text-align:right;padding-right:3.2px;"><span>.391</span></div>
<div class="c d" style="left:375.3px;top:441.6px;width:19.6px;height:17.4px;line-height:17.4px;text-align:right;padding-right:3.2px;"><span>4</span></div>
<div class="c d" style="left:394.9px;top:441.6px;width:25.6px;height:17.4px;line-height:17.4px;text-align:right;padding-right:3.2px;"><span>12</span></div>
<div class="c d" style="left:420.5px;top:441.6px;width:29.1px;height:17.4px;line-height:17.4px;text-align:right;padding-right:3.2px;"><span>.333</span></div>
<div class="c d" style="left:449.6px;top:441.6px;width:18.7px;height:17.4px;line-height:17.4px;text-align:right;padding-right:3.2px;"><span>10</span></div>
<div class="c d" style="left:468.3px;top:441.6px;width:24px;height:17.4px;line-height:17.4px;text-align:right;padding-right:3.2px;"><span>12</span></div>
<div class="c d" style="left:492.3px;top:441.6px;width:31.2px;height:17.4px;line-height:17.4px;text-align:right;padding-right:3.2px;"><span>.833</span></div>
<div class="c d" style="left:523.5px;top:441.6px;width:28.1px;height:17.4px;line-height:17.4px;text-align:right;padding-right:3.2px;"><span>0</span></div>
<div class="c d" style="left:551.6px;top:441.6px;width:27.1px;height:17.4px;line-height:17.4px;text-align:right;padding-right:3.2px;"><span>7</span></div>
<div class="c d" style="left:578.7px;top:441.6px;width:23.8px;height:17.4px;line-height:17.4px;text-align:right;padding-right:3.2px;"><span>7</span></div>
<div class="c d" style="left:602.5px;top:441.6px;width:26.3px;height:17.4px;line-height:17.4px;text-align:right;padding-right:3.2px;"><span>12</span></div>
<div class="c d" style="left:628.8px;top:441.6px;width:24px;height:17.4px;line-height:17.4px;text-align:right;padding-right:3.2px;"><span>4</span></div>
<div class="c d" style="left:652.8px;top:441.6px;width:25px;height:17.4px;line-height:17.4px;text-align:right;padding-right:3.2px;"><span>0</span></div>
<div class="c d" style="left:677.8px;top:441.6px;width:25.6px;height:17.4px;line-height:17.4px;text-align:right;padding-right:3.2px;"><span>5</span></div>
<div class="c d" style="left:703.4px;top:441.6px;width:19.3px;height:17.4px;line-height:17.4px;text-align:right;padding-right:3.2px;"><span>5</span></div>
<div class="c d" style="left:722.7px;top:441.6px;width:24.8px;height:17.4px;line-height:17.4px;text-align:right;padding-right:3.2px;"><span>32</span></div>
<div class="b" style="left:0px;top:457.2px;width:750px;height:1.4px;background:#bdbdbd"></div>
<div class="hl"></div></div>
</body></html>
